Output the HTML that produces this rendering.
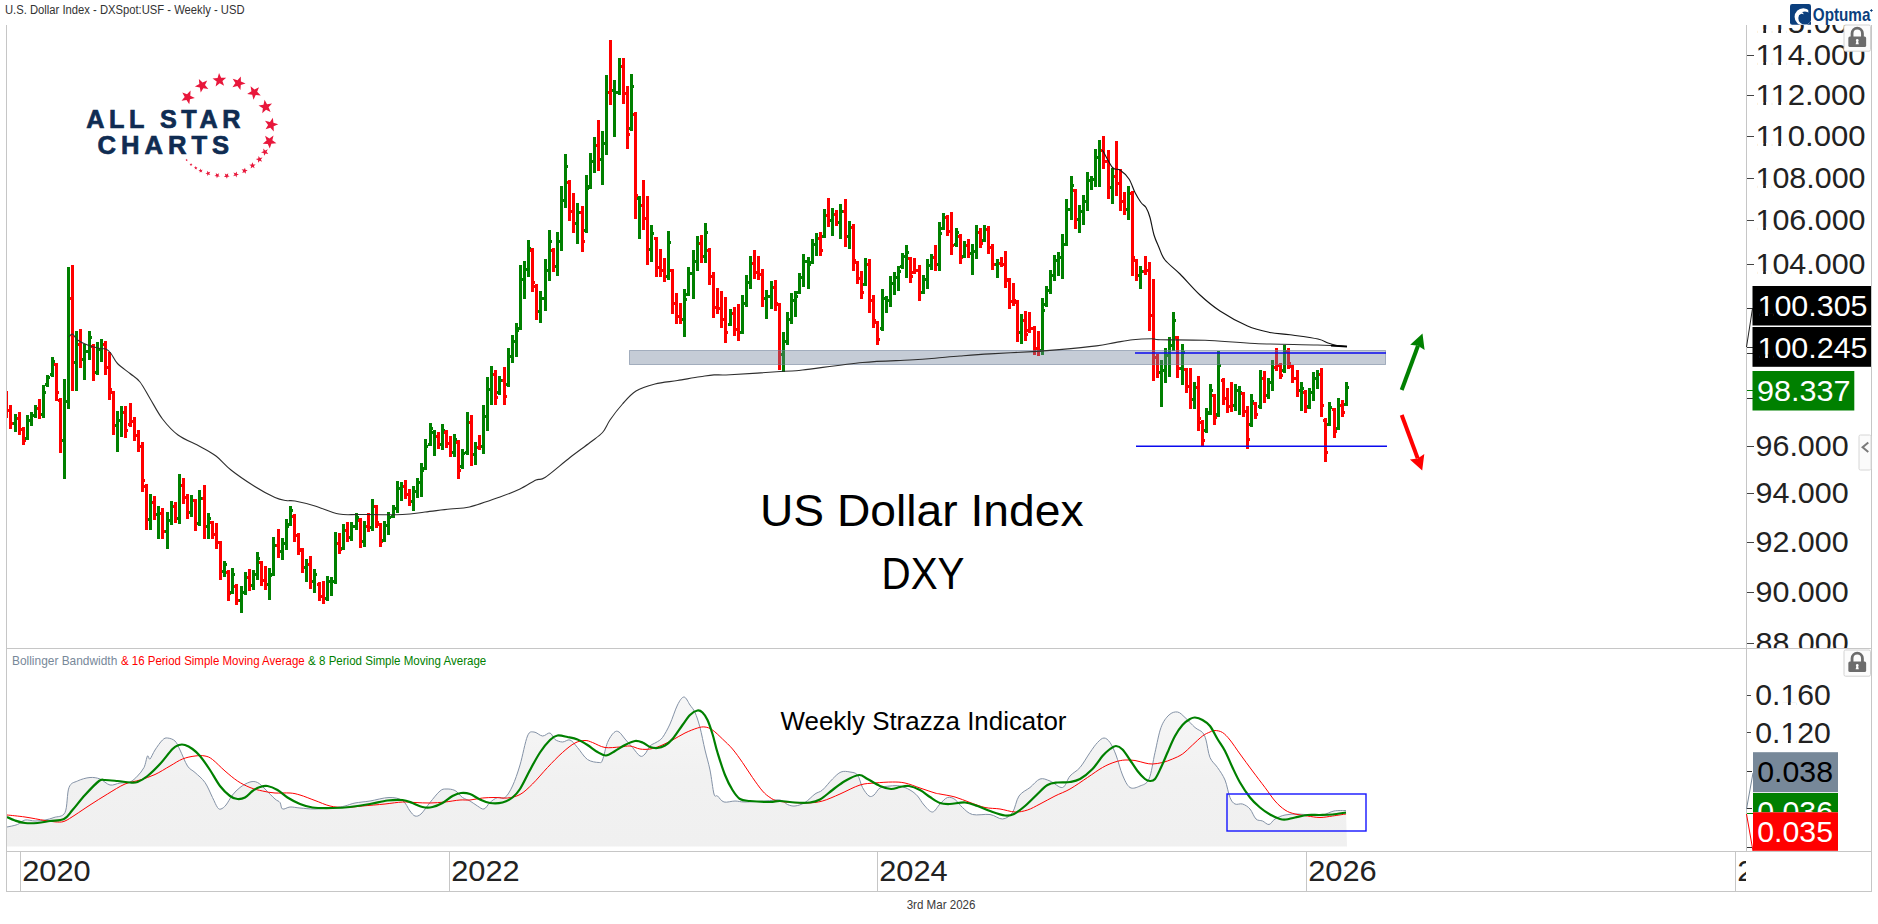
<!DOCTYPE html>
<html><head><meta charset="utf-8"><title>US Dollar Index</title>
<style>html,body{margin:0;padding:0;background:#fff;}body{width:1878px;height:924px;overflow:hidden;font-family:"Liberation Sans", sans-serif;}svg{display:block}</style>
</head><body><svg width="1878" height="924" viewBox="0 0 1878 924"><rect x="0" y="0" width="1878" height="924" fill="#ffffff"/>
<defs><linearGradient id="bbg" x1="0" y1="0" x2="0" y2="1"><stop offset="0" stop-color="#f7f7f7"/><stop offset="0.55" stop-color="#f1f1f1"/><stop offset="1" stop-color="#f0f0f0"/></linearGradient><clipPath id="mainclip"><rect x="7" y="25" width="1739" height="623"/></clipPath><clipPath id="dateclip"><rect x="7" y="852" width="1739" height="39"/></clipPath><clipPath id="axclip"><rect x="1747" y="25" width="124" height="623"/></clipPath></defs>
<path d="M7.0,827.0 C8.8,826.6 14.5,825.7 17.5,824.5 C20.5,823.3 22.1,820.6 25.0,820.0 C27.9,819.4 31.7,821.0 35.0,821.0 C38.3,821.0 41.8,820.6 45.0,820.0 C48.2,819.4 50.7,818.8 54.0,817.5 C57.3,816.2 62.5,817.5 65.0,812.5 C67.5,807.5 66.9,792.8 69.0,787.5 C71.1,782.2 74.0,782.7 77.5,781.0 C81.0,779.3 86.2,777.8 90.0,777.5 C93.8,777.2 96.7,777.8 100.0,779.0 C103.3,780.2 106.7,784.3 110.0,785.0 C113.3,785.7 116.7,783.5 120.0,783.0 C123.3,782.5 127.1,783.2 130.0,782.0 C132.9,780.8 135.2,778.4 137.5,776.0 C139.8,773.6 142.3,770.8 144.0,767.5 C145.7,764.2 146.5,757.4 147.5,756.0 C148.5,754.6 148.8,760.0 150.0,759.0 C151.2,758.0 152.9,753.2 155.0,750.0 C157.1,746.8 160.4,742.0 162.5,740.0 C164.6,738.0 165.4,737.8 167.5,738.0 C169.6,738.2 172.9,739.0 175.0,741.0 C177.1,743.0 177.9,745.8 180.0,750.0 C182.1,754.2 185.0,762.2 187.5,766.0 C190.0,769.8 192.1,769.8 195.0,772.5 C197.9,775.2 202.1,778.3 205.0,782.5 C207.9,786.7 210.4,793.3 212.5,797.5 C214.6,801.7 216.1,805.6 217.5,807.5 C218.9,809.4 219.6,809.4 221.0,809.0 C222.4,808.6 224.1,807.3 226.0,805.0 C227.9,802.7 230.2,797.9 232.5,795.0 C234.8,792.1 237.1,789.7 240.0,787.5 C242.9,785.3 247.1,782.8 250.0,782.0 C252.9,781.2 255.0,781.3 257.5,782.5 C260.0,783.7 262.1,786.2 265.0,789.0 C267.9,791.8 272.5,796.8 275.0,799.0 C277.5,801.2 278.8,800.8 280.0,802.5 C281.2,804.2 280.8,808.2 282.5,809.0 C284.2,809.8 287.1,807.2 290.0,807.0 C292.9,806.8 295.8,807.7 300.0,808.0 C304.2,808.3 309.2,809.1 315.0,809.0 C320.8,808.9 330.0,808.0 335.0,807.5 C340.0,807.0 341.7,806.8 345.0,806.0 C348.3,805.2 350.8,803.8 355.0,803.0 C359.2,802.2 364.3,801.9 370.0,801.0 C375.7,800.1 383.6,797.6 389.0,797.5 C394.4,797.4 399.0,798.2 402.5,800.5 C406.0,802.8 407.9,808.4 410.0,811.0 C412.1,813.6 413.2,815.5 415.0,816.0 C416.8,816.5 418.5,816.2 421.0,814.0 C423.5,811.8 426.8,806.3 430.0,802.5 C433.2,798.7 437.3,793.2 440.0,791.0 C442.7,788.8 443.5,789.1 446.0,789.0 C448.5,788.9 452.2,789.1 455.0,790.5 C457.8,791.9 460.0,795.8 462.5,797.5 C465.0,799.2 467.5,799.6 470.0,801.0 C472.5,802.4 475.2,804.7 477.5,806.0 C479.8,807.3 481.9,809.6 484.0,809.0 C486.1,808.4 487.8,804.4 490.0,802.5 C492.2,800.6 495.0,798.3 497.5,797.5 C500.0,796.7 502.5,799.4 505.0,797.5 C507.5,795.6 510.0,791.4 512.5,786.0 C515.0,780.6 517.5,773.3 520.0,765.0 C522.5,756.7 525.2,741.5 527.5,736.0 C529.8,730.5 531.5,732.0 534.0,732.0 C536.5,732.0 539.8,735.8 542.5,736.0 C545.2,736.2 547.9,732.4 550.0,733.0 C552.1,733.6 552.9,738.0 555.0,739.5 C557.1,741.0 560.0,741.9 562.5,742.0 C565.0,742.1 567.5,739.1 570.0,740.0 C572.5,740.9 574.6,744.2 577.5,747.5 C580.4,750.8 583.9,757.0 587.5,759.5 C591.1,762.0 596.5,762.4 599.0,762.5 C601.5,762.6 601.1,763.3 602.5,760.0 C603.9,756.7 605.6,747.1 607.5,742.5 C609.4,737.9 612.1,734.2 614.0,732.5 C615.9,730.8 617.2,730.9 619.0,732.0 C620.8,733.1 622.8,736.4 625.0,739.0 C627.2,741.6 630.0,744.7 632.5,747.5 C635.0,750.3 637.9,754.9 640.0,756.0 C642.1,757.1 643.3,755.7 645.0,754.0 C646.7,752.3 648.2,747.9 650.0,746.0 C651.8,744.1 653.9,743.9 656.0,742.5 C658.1,741.1 660.2,740.6 662.5,737.5 C664.8,734.4 667.5,729.4 670.0,724.0 C672.5,718.6 675.2,709.5 677.5,705.0 C679.8,700.5 681.9,697.0 684.0,697.0 C686.1,697.0 688.2,702.4 690.0,705.0 C691.8,707.6 693.3,708.8 695.0,712.5 C696.7,716.2 698.3,721.2 700.0,727.5 C701.7,733.8 703.3,742.9 705.0,750.0 C706.7,757.1 708.5,762.7 710.0,770.0 C711.5,777.3 712.8,789.7 714.0,794.0 C715.2,798.3 715.8,794.7 717.5,796.0 C719.2,797.3 721.1,801.2 724.0,802.0 C726.9,802.8 731.5,801.0 735.0,801.0 C738.5,801.0 740.0,802.0 745.0,802.0 C750.0,802.0 759.2,801.3 765.0,801.0 C770.8,800.7 776.2,799.4 780.0,800.0 C783.8,800.6 785.0,803.5 787.5,804.5 C790.0,805.5 792.1,806.3 795.0,806.0 C797.9,805.7 801.7,804.5 805.0,802.5 C808.3,800.5 812.1,796.1 815.0,794.0 C817.9,791.9 819.6,792.5 822.5,790.0 C825.4,787.5 829.4,782.0 832.5,779.0 C835.6,776.0 838.1,773.2 841.0,772.0 C843.9,770.8 847.2,771.5 850.0,772.0 C852.8,772.5 855.4,772.4 857.5,775.0 C859.6,777.6 860.6,784.0 862.5,787.5 C864.4,791.0 867.1,794.8 869.0,796.0 C870.9,797.2 872.2,796.3 874.0,795.0 C875.8,793.7 877.3,789.5 880.0,788.0 C882.7,786.5 886.7,786.3 890.0,786.0 C893.3,785.7 896.7,785.3 900.0,786.0 C903.3,786.7 907.1,788.3 910.0,790.0 C912.9,791.7 915.2,793.5 917.5,796.0 C919.8,798.5 921.5,802.3 924.0,805.0 C926.5,807.7 929.8,812.2 932.5,812.0 C935.2,811.8 937.5,806.4 940.0,804.0 C942.5,801.6 945.0,798.2 947.5,797.5 C950.0,796.8 952.5,797.8 955.0,799.5 C957.5,801.2 959.6,805.0 962.5,807.5 C965.4,810.0 967.9,813.3 972.5,814.5 C977.1,815.7 985.0,813.8 990.0,814.5 C995.0,815.2 998.8,819.3 1002.5,819.0 C1006.2,818.7 1009.8,816.3 1012.5,812.5 C1015.2,808.7 1016.1,800.2 1019.0,796.0 C1021.9,791.8 1026.5,790.3 1030.0,787.5 C1033.5,784.7 1036.7,780.1 1040.0,779.0 C1043.3,777.9 1046.2,779.6 1050.0,781.0 C1053.8,782.4 1059.2,788.3 1062.5,787.5 C1065.8,786.7 1067.1,779.3 1070.0,776.0 C1072.9,772.7 1076.7,771.4 1080.0,767.5 C1083.3,763.6 1087.1,756.7 1090.0,752.5 C1092.9,748.3 1095.2,744.9 1097.5,742.5 C1099.8,740.1 1101.9,738.0 1104.0,738.0 C1106.1,738.0 1108.0,739.7 1110.0,742.5 C1112.0,745.3 1113.9,749.6 1116.0,755.0 C1118.1,760.4 1120.2,769.6 1122.5,775.0 C1124.8,780.4 1127.1,785.7 1130.0,787.5 C1132.9,789.3 1136.8,787.4 1140.0,786.0 C1143.2,784.6 1146.5,784.6 1149.0,779.0 C1151.5,773.4 1153.0,761.1 1155.0,752.5 C1157.0,743.9 1158.7,733.8 1161.0,727.5 C1163.3,721.2 1166.2,717.6 1169.0,715.0 C1171.8,712.4 1174.8,711.6 1177.5,712.0 C1180.2,712.4 1182.1,714.9 1185.0,717.5 C1187.9,720.1 1192.1,725.0 1195.0,727.5 C1197.9,730.0 1200.7,730.4 1202.5,732.5 C1204.3,734.6 1204.8,735.8 1206.0,740.0 C1207.2,744.2 1208.1,752.9 1210.0,757.5 C1211.9,762.1 1215.0,763.8 1217.5,767.5 C1220.0,771.2 1222.9,775.0 1225.0,780.0 C1227.1,785.0 1228.3,793.5 1230.0,797.5 C1231.7,801.5 1232.9,802.9 1235.0,804.0 C1237.1,805.1 1240.0,803.2 1242.5,804.0 C1245.0,804.8 1247.8,806.5 1250.0,809.0 C1252.2,811.5 1253.9,817.0 1256.0,819.0 C1258.1,821.0 1260.3,820.1 1262.5,821.0 C1264.7,821.9 1266.9,824.8 1269.0,824.5 C1271.1,824.2 1272.3,820.6 1275.0,819.0 C1277.7,817.4 1281.2,815.8 1285.0,815.0 C1288.8,814.2 1293.3,814.0 1297.5,814.0 C1301.7,814.0 1305.8,814.8 1310.0,815.0 C1314.2,815.2 1318.5,815.7 1322.5,815.0 C1326.5,814.3 1330.1,811.8 1334.0,811.0 C1337.9,810.2 1344.0,810.6 1346.0,810.5 L1347,846.5 L7,846.5 Z" fill="url(#bbg)" stroke="none"/>
<g clip-path="url(#mainclip)" shape-rendering="crispEdges">
<rect x="7" y="391" width="1" height="27" fill="#ff0000"/>
<rect x="9" y="405" width="3" height="24" fill="#ff0000"/>
<rect x="8" y="409" width="1" height="3" fill="#ff0000"/>
<rect x="12" y="422" width="1" height="3" fill="#ff0000"/>
<rect x="14" y="414" width="3" height="18" fill="#008000"/>
<rect x="13" y="422" width="1" height="3" fill="#008000"/>
<rect x="17" y="417" width="1" height="3" fill="#008000"/>
<rect x="18" y="412" width="3" height="23" fill="#ff0000"/>
<rect x="17" y="417" width="1" height="3" fill="#ff0000"/>
<rect x="21" y="428" width="1" height="3" fill="#ff0000"/>
<rect x="22" y="427" width="3" height="18" fill="#ff0000"/>
<rect x="21" y="428" width="1" height="3" fill="#ff0000"/>
<rect x="25" y="439" width="1" height="3" fill="#ff0000"/>
<rect x="26" y="415" width="3" height="25" fill="#008000"/>
<rect x="25" y="437" width="1" height="3" fill="#008000"/>
<rect x="29" y="419" width="1" height="3" fill="#008000"/>
<rect x="30" y="412" width="3" height="14" fill="#008000"/>
<rect x="29" y="419" width="1" height="3" fill="#008000"/>
<rect x="33" y="414" width="1" height="3" fill="#008000"/>
<rect x="34" y="405" width="3" height="13" fill="#008000"/>
<rect x="33" y="414" width="1" height="3" fill="#008000"/>
<rect x="37" y="407" width="1" height="3" fill="#008000"/>
<rect x="38" y="399" width="3" height="20" fill="#ff0000"/>
<rect x="37" y="407" width="1" height="3" fill="#ff0000"/>
<rect x="41" y="413" width="1" height="3" fill="#ff0000"/>
<rect x="42" y="385" width="3" height="33" fill="#008000"/>
<rect x="41" y="413" width="1" height="3" fill="#008000"/>
<rect x="45" y="391" width="1" height="3" fill="#008000"/>
<rect x="46" y="375" width="3" height="12" fill="#008000"/>
<rect x="45" y="383" width="1" height="3" fill="#008000"/>
<rect x="49" y="376" width="1" height="3" fill="#008000"/>
<rect x="51" y="357" width="3" height="20" fill="#008000"/>
<rect x="50" y="373" width="1" height="3" fill="#008000"/>
<rect x="54" y="360" width="1" height="3" fill="#008000"/>
<rect x="55" y="363" width="3" height="38" fill="#ff0000"/>
<rect x="54" y="363" width="1" height="3" fill="#ff0000"/>
<rect x="58" y="391" width="1" height="3" fill="#ff0000"/>
<rect x="59" y="398" width="3" height="55" fill="#ff0000"/>
<rect x="58" y="399" width="1" height="3" fill="#ff0000"/>
<rect x="62" y="439" width="1" height="3" fill="#ff0000"/>
<rect x="63" y="379" width="3" height="100" fill="#008000"/>
<rect x="62" y="439" width="1" height="3" fill="#008000"/>
<rect x="66" y="400" width="1" height="3" fill="#008000"/>
<rect x="67" y="267" width="3" height="142" fill="#008000"/>
<rect x="66" y="400" width="1" height="3" fill="#008000"/>
<rect x="70" y="297" width="1" height="3" fill="#008000"/>
<rect x="71" y="265" width="3" height="126" fill="#ff0000"/>
<rect x="70" y="297" width="1" height="3" fill="#ff0000"/>
<rect x="74" y="361" width="1" height="3" fill="#ff0000"/>
<rect x="75" y="331" width="3" height="60" fill="#008000"/>
<rect x="74" y="361" width="1" height="3" fill="#008000"/>
<rect x="78" y="343" width="1" height="3" fill="#008000"/>
<rect x="79" y="329" width="3" height="39" fill="#ff0000"/>
<rect x="78" y="343" width="1" height="3" fill="#ff0000"/>
<rect x="82" y="358" width="1" height="3" fill="#ff0000"/>
<rect x="83" y="344" width="3" height="36" fill="#008000"/>
<rect x="82" y="358" width="1" height="3" fill="#008000"/>
<rect x="86" y="350" width="1" height="3" fill="#008000"/>
<rect x="88" y="331" width="3" height="29" fill="#008000"/>
<rect x="87" y="350" width="1" height="3" fill="#008000"/>
<rect x="91" y="336" width="1" height="3" fill="#008000"/>
<rect x="92" y="344" width="3" height="37" fill="#ff0000"/>
<rect x="91" y="345" width="1" height="3" fill="#ff0000"/>
<rect x="95" y="371" width="1" height="3" fill="#ff0000"/>
<rect x="96" y="342" width="3" height="33" fill="#008000"/>
<rect x="95" y="371" width="1" height="3" fill="#008000"/>
<rect x="99" y="348" width="1" height="3" fill="#008000"/>
<rect x="100" y="339" width="3" height="23" fill="#008000"/>
<rect x="99" y="348" width="1" height="3" fill="#008000"/>
<rect x="103" y="343" width="1" height="3" fill="#008000"/>
<rect x="104" y="341" width="3" height="34" fill="#ff0000"/>
<rect x="103" y="343" width="1" height="3" fill="#ff0000"/>
<rect x="107" y="366" width="1" height="3" fill="#ff0000"/>
<rect x="108" y="352" width="3" height="48" fill="#ff0000"/>
<rect x="107" y="366" width="1" height="3" fill="#ff0000"/>
<rect x="111" y="388" width="1" height="3" fill="#ff0000"/>
<rect x="112" y="391" width="3" height="44" fill="#ff0000"/>
<rect x="111" y="391" width="1" height="3" fill="#ff0000"/>
<rect x="115" y="424" width="1" height="3" fill="#ff0000"/>
<rect x="116" y="411" width="3" height="41" fill="#008000"/>
<rect x="115" y="424" width="1" height="3" fill="#008000"/>
<rect x="119" y="419" width="1" height="3" fill="#008000"/>
<rect x="120" y="406" width="3" height="31" fill="#008000"/>
<rect x="119" y="419" width="1" height="3" fill="#008000"/>
<rect x="123" y="411" width="1" height="3" fill="#008000"/>
<rect x="124" y="406" width="3" height="32" fill="#ff0000"/>
<rect x="123" y="411" width="1" height="3" fill="#ff0000"/>
<rect x="127" y="429" width="1" height="3" fill="#ff0000"/>
<rect x="129" y="403" width="3" height="24" fill="#ff0000"/>
<rect x="128" y="423" width="1" height="3" fill="#ff0000"/>
<rect x="132" y="420" width="1" height="3" fill="#ff0000"/>
<rect x="133" y="417" width="3" height="24" fill="#ff0000"/>
<rect x="132" y="420" width="1" height="3" fill="#ff0000"/>
<rect x="136" y="434" width="1" height="3" fill="#ff0000"/>
<rect x="137" y="430" width="3" height="22" fill="#ff0000"/>
<rect x="136" y="434" width="1" height="3" fill="#ff0000"/>
<rect x="140" y="445" width="1" height="3" fill="#ff0000"/>
<rect x="141" y="442" width="3" height="50" fill="#ff0000"/>
<rect x="140" y="445" width="1" height="3" fill="#ff0000"/>
<rect x="144" y="479" width="1" height="3" fill="#ff0000"/>
<rect x="145" y="484" width="3" height="46" fill="#ff0000"/>
<rect x="144" y="485" width="1" height="3" fill="#ff0000"/>
<rect x="148" y="518" width="1" height="3" fill="#ff0000"/>
<rect x="149" y="494" width="3" height="36" fill="#008000"/>
<rect x="148" y="518" width="1" height="3" fill="#008000"/>
<rect x="152" y="501" width="1" height="3" fill="#008000"/>
<rect x="153" y="496" width="3" height="24" fill="#ff0000"/>
<rect x="152" y="501" width="1" height="3" fill="#ff0000"/>
<rect x="156" y="513" width="1" height="3" fill="#ff0000"/>
<rect x="157" y="506" width="3" height="33" fill="#008000"/>
<rect x="156" y="513" width="1" height="3" fill="#008000"/>
<rect x="160" y="512" width="1" height="3" fill="#008000"/>
<rect x="161" y="508" width="3" height="31" fill="#ff0000"/>
<rect x="160" y="512" width="1" height="3" fill="#ff0000"/>
<rect x="164" y="530" width="1" height="3" fill="#ff0000"/>
<rect x="166" y="512" width="3" height="37" fill="#008000"/>
<rect x="165" y="530" width="1" height="3" fill="#008000"/>
<rect x="169" y="519" width="1" height="3" fill="#008000"/>
<rect x="170" y="501" width="3" height="24" fill="#008000"/>
<rect x="169" y="519" width="1" height="3" fill="#008000"/>
<rect x="173" y="505" width="1" height="3" fill="#008000"/>
<rect x="174" y="502" width="3" height="21" fill="#ff0000"/>
<rect x="173" y="505" width="1" height="3" fill="#ff0000"/>
<rect x="177" y="517" width="1" height="3" fill="#ff0000"/>
<rect x="178" y="474" width="3" height="50" fill="#008000"/>
<rect x="177" y="517" width="1" height="3" fill="#008000"/>
<rect x="181" y="484" width="1" height="3" fill="#008000"/>
<rect x="182" y="478" width="3" height="26" fill="#ff0000"/>
<rect x="181" y="484" width="1" height="3" fill="#ff0000"/>
<rect x="185" y="496" width="1" height="3" fill="#ff0000"/>
<rect x="186" y="494" width="3" height="25" fill="#ff0000"/>
<rect x="185" y="496" width="1" height="3" fill="#ff0000"/>
<rect x="189" y="511" width="1" height="3" fill="#ff0000"/>
<rect x="190" y="495" width="3" height="22" fill="#008000"/>
<rect x="189" y="511" width="1" height="3" fill="#008000"/>
<rect x="193" y="499" width="1" height="3" fill="#008000"/>
<rect x="194" y="499" width="3" height="32" fill="#ff0000"/>
<rect x="193" y="499" width="1" height="3" fill="#ff0000"/>
<rect x="197" y="522" width="1" height="3" fill="#ff0000"/>
<rect x="198" y="490" width="3" height="36" fill="#008000"/>
<rect x="197" y="522" width="1" height="3" fill="#008000"/>
<rect x="201" y="497" width="1" height="3" fill="#008000"/>
<rect x="203" y="485" width="3" height="54" fill="#ff0000"/>
<rect x="202" y="497" width="1" height="3" fill="#ff0000"/>
<rect x="206" y="525" width="1" height="3" fill="#ff0000"/>
<rect x="207" y="513" width="3" height="26" fill="#008000"/>
<rect x="206" y="525" width="1" height="3" fill="#008000"/>
<rect x="210" y="517" width="1" height="3" fill="#008000"/>
<rect x="211" y="521" width="3" height="18" fill="#ff0000"/>
<rect x="210" y="521" width="1" height="3" fill="#ff0000"/>
<rect x="214" y="533" width="1" height="3" fill="#ff0000"/>
<rect x="215" y="523" width="3" height="26" fill="#ff0000"/>
<rect x="214" y="533" width="1" height="3" fill="#ff0000"/>
<rect x="218" y="541" width="1" height="3" fill="#ff0000"/>
<rect x="219" y="541" width="3" height="39" fill="#ff0000"/>
<rect x="218" y="541" width="1" height="3" fill="#ff0000"/>
<rect x="222" y="570" width="1" height="3" fill="#ff0000"/>
<rect x="223" y="561" width="3" height="16" fill="#008000"/>
<rect x="222" y="570" width="1" height="3" fill="#008000"/>
<rect x="226" y="563" width="1" height="3" fill="#008000"/>
<rect x="227" y="570" width="3" height="31" fill="#ff0000"/>
<rect x="226" y="571" width="1" height="3" fill="#ff0000"/>
<rect x="230" y="592" width="1" height="3" fill="#ff0000"/>
<rect x="231" y="568" width="3" height="26" fill="#008000"/>
<rect x="230" y="591" width="1" height="3" fill="#008000"/>
<rect x="234" y="573" width="1" height="3" fill="#008000"/>
<rect x="235" y="584" width="3" height="21" fill="#ff0000"/>
<rect x="234" y="585" width="1" height="3" fill="#ff0000"/>
<rect x="238" y="599" width="1" height="3" fill="#ff0000"/>
<rect x="240" y="586" width="3" height="27" fill="#008000"/>
<rect x="239" y="599" width="1" height="3" fill="#008000"/>
<rect x="243" y="591" width="1" height="3" fill="#008000"/>
<rect x="244" y="572" width="3" height="23" fill="#008000"/>
<rect x="243" y="591" width="1" height="3" fill="#008000"/>
<rect x="247" y="576" width="1" height="3" fill="#008000"/>
<rect x="248" y="569" width="3" height="22" fill="#ff0000"/>
<rect x="247" y="576" width="1" height="3" fill="#ff0000"/>
<rect x="251" y="584" width="1" height="3" fill="#ff0000"/>
<rect x="252" y="570" width="3" height="20" fill="#008000"/>
<rect x="251" y="584" width="1" height="3" fill="#008000"/>
<rect x="255" y="573" width="1" height="3" fill="#008000"/>
<rect x="256" y="552" width="3" height="28" fill="#008000"/>
<rect x="255" y="573" width="1" height="3" fill="#008000"/>
<rect x="259" y="557" width="1" height="3" fill="#008000"/>
<rect x="260" y="561" width="3" height="25" fill="#ff0000"/>
<rect x="259" y="561" width="1" height="3" fill="#ff0000"/>
<rect x="263" y="579" width="1" height="3" fill="#ff0000"/>
<rect x="264" y="566" width="3" height="24" fill="#ff0000"/>
<rect x="263" y="579" width="1" height="3" fill="#ff0000"/>
<rect x="267" y="583" width="1" height="3" fill="#ff0000"/>
<rect x="268" y="568" width="3" height="32" fill="#008000"/>
<rect x="267" y="583" width="1" height="3" fill="#008000"/>
<rect x="271" y="574" width="1" height="3" fill="#008000"/>
<rect x="272" y="537" width="3" height="39" fill="#008000"/>
<rect x="271" y="573" width="1" height="3" fill="#008000"/>
<rect x="275" y="544" width="1" height="3" fill="#008000"/>
<rect x="277" y="529" width="3" height="29" fill="#ff0000"/>
<rect x="276" y="544" width="1" height="3" fill="#ff0000"/>
<rect x="280" y="550" width="1" height="3" fill="#ff0000"/>
<rect x="281" y="538" width="3" height="22" fill="#008000"/>
<rect x="280" y="550" width="1" height="3" fill="#008000"/>
<rect x="284" y="542" width="1" height="3" fill="#008000"/>
<rect x="285" y="519" width="3" height="31" fill="#008000"/>
<rect x="284" y="542" width="1" height="3" fill="#008000"/>
<rect x="288" y="525" width="1" height="3" fill="#008000"/>
<rect x="289" y="506" width="3" height="20" fill="#008000"/>
<rect x="288" y="523" width="1" height="3" fill="#008000"/>
<rect x="292" y="509" width="1" height="3" fill="#008000"/>
<rect x="293" y="514" width="3" height="28" fill="#ff0000"/>
<rect x="292" y="515" width="1" height="3" fill="#ff0000"/>
<rect x="296" y="534" width="1" height="3" fill="#ff0000"/>
<rect x="297" y="533" width="3" height="22" fill="#ff0000"/>
<rect x="296" y="534" width="1" height="3" fill="#ff0000"/>
<rect x="300" y="548" width="1" height="3" fill="#ff0000"/>
<rect x="301" y="548" width="3" height="25" fill="#ff0000"/>
<rect x="300" y="549" width="1" height="3" fill="#ff0000"/>
<rect x="304" y="566" width="1" height="3" fill="#ff0000"/>
<rect x="305" y="559" width="3" height="23" fill="#008000"/>
<rect x="304" y="566" width="1" height="3" fill="#008000"/>
<rect x="308" y="563" width="1" height="3" fill="#008000"/>
<rect x="309" y="556" width="3" height="33" fill="#ff0000"/>
<rect x="308" y="563" width="1" height="3" fill="#ff0000"/>
<rect x="312" y="580" width="1" height="3" fill="#ff0000"/>
<rect x="313" y="569" width="3" height="24" fill="#008000"/>
<rect x="312" y="580" width="1" height="3" fill="#008000"/>
<rect x="316" y="573" width="1" height="3" fill="#008000"/>
<rect x="318" y="582" width="3" height="19" fill="#ff0000"/>
<rect x="317" y="583" width="1" height="3" fill="#ff0000"/>
<rect x="321" y="595" width="1" height="3" fill="#ff0000"/>
<rect x="322" y="581" width="3" height="23" fill="#ff0000"/>
<rect x="321" y="595" width="1" height="3" fill="#ff0000"/>
<rect x="325" y="597" width="1" height="3" fill="#ff0000"/>
<rect x="326" y="576" width="3" height="25" fill="#008000"/>
<rect x="325" y="597" width="1" height="3" fill="#008000"/>
<rect x="329" y="580" width="1" height="3" fill="#008000"/>
<rect x="330" y="577" width="3" height="19" fill="#008000"/>
<rect x="329" y="580" width="1" height="3" fill="#008000"/>
<rect x="333" y="580" width="1" height="3" fill="#008000"/>
<rect x="334" y="532" width="3" height="52" fill="#008000"/>
<rect x="333" y="580" width="1" height="3" fill="#008000"/>
<rect x="337" y="542" width="1" height="3" fill="#008000"/>
<rect x="338" y="533" width="3" height="21" fill="#ff0000"/>
<rect x="337" y="542" width="1" height="3" fill="#ff0000"/>
<rect x="341" y="548" width="1" height="3" fill="#ff0000"/>
<rect x="342" y="524" width="3" height="26" fill="#008000"/>
<rect x="341" y="547" width="1" height="3" fill="#008000"/>
<rect x="345" y="529" width="1" height="3" fill="#008000"/>
<rect x="346" y="522" width="3" height="20" fill="#ff0000"/>
<rect x="345" y="529" width="1" height="3" fill="#ff0000"/>
<rect x="349" y="536" width="1" height="3" fill="#ff0000"/>
<rect x="350" y="522" width="3" height="19" fill="#008000"/>
<rect x="349" y="536" width="1" height="3" fill="#008000"/>
<rect x="353" y="525" width="1" height="3" fill="#008000"/>
<rect x="355" y="513" width="3" height="17" fill="#008000"/>
<rect x="354" y="525" width="1" height="3" fill="#008000"/>
<rect x="358" y="516" width="1" height="3" fill="#008000"/>
<rect x="359" y="518" width="3" height="30" fill="#ff0000"/>
<rect x="358" y="519" width="1" height="3" fill="#ff0000"/>
<rect x="362" y="540" width="1" height="3" fill="#ff0000"/>
<rect x="363" y="521" width="3" height="26" fill="#008000"/>
<rect x="362" y="540" width="1" height="3" fill="#008000"/>
<rect x="366" y="525" width="1" height="3" fill="#008000"/>
<rect x="367" y="513" width="3" height="19" fill="#ff0000"/>
<rect x="366" y="525" width="1" height="3" fill="#ff0000"/>
<rect x="370" y="526" width="1" height="3" fill="#ff0000"/>
<rect x="371" y="499" width="3" height="32" fill="#008000"/>
<rect x="370" y="526" width="1" height="3" fill="#008000"/>
<rect x="374" y="505" width="1" height="3" fill="#008000"/>
<rect x="375" y="505" width="3" height="23" fill="#ff0000"/>
<rect x="374" y="505" width="1" height="3" fill="#ff0000"/>
<rect x="378" y="521" width="1" height="3" fill="#ff0000"/>
<rect x="379" y="523" width="3" height="24" fill="#ff0000"/>
<rect x="378" y="523" width="1" height="3" fill="#ff0000"/>
<rect x="382" y="540" width="1" height="3" fill="#ff0000"/>
<rect x="383" y="521" width="3" height="21" fill="#008000"/>
<rect x="382" y="539" width="1" height="3" fill="#008000"/>
<rect x="386" y="524" width="1" height="3" fill="#008000"/>
<rect x="387" y="512" width="3" height="23" fill="#008000"/>
<rect x="386" y="524" width="1" height="3" fill="#008000"/>
<rect x="390" y="516" width="1" height="3" fill="#008000"/>
<rect x="392" y="505" width="3" height="13" fill="#008000"/>
<rect x="391" y="515" width="1" height="3" fill="#008000"/>
<rect x="395" y="507" width="1" height="3" fill="#008000"/>
<rect x="396" y="481" width="3" height="32" fill="#008000"/>
<rect x="395" y="507" width="1" height="3" fill="#008000"/>
<rect x="399" y="487" width="1" height="3" fill="#008000"/>
<rect x="400" y="482" width="3" height="19" fill="#008000"/>
<rect x="399" y="487" width="1" height="3" fill="#008000"/>
<rect x="403" y="485" width="1" height="3" fill="#008000"/>
<rect x="404" y="480" width="3" height="19" fill="#ff0000"/>
<rect x="403" y="485" width="1" height="3" fill="#ff0000"/>
<rect x="407" y="493" width="1" height="3" fill="#ff0000"/>
<rect x="408" y="489" width="3" height="17" fill="#ff0000"/>
<rect x="407" y="493" width="1" height="3" fill="#ff0000"/>
<rect x="411" y="500" width="1" height="3" fill="#ff0000"/>
<rect x="412" y="486" width="3" height="25" fill="#008000"/>
<rect x="411" y="500" width="1" height="3" fill="#008000"/>
<rect x="415" y="490" width="1" height="3" fill="#008000"/>
<rect x="416" y="478" width="3" height="20" fill="#008000"/>
<rect x="415" y="490" width="1" height="3" fill="#008000"/>
<rect x="419" y="481" width="1" height="3" fill="#008000"/>
<rect x="420" y="463" width="3" height="34" fill="#008000"/>
<rect x="419" y="481" width="1" height="3" fill="#008000"/>
<rect x="423" y="469" width="1" height="3" fill="#008000"/>
<rect x="424" y="439" width="3" height="31" fill="#008000"/>
<rect x="423" y="467" width="1" height="3" fill="#008000"/>
<rect x="427" y="445" width="1" height="3" fill="#008000"/>
<rect x="429" y="423" width="3" height="23" fill="#008000"/>
<rect x="428" y="443" width="1" height="3" fill="#008000"/>
<rect x="432" y="427" width="1" height="3" fill="#008000"/>
<rect x="433" y="430" width="3" height="26" fill="#008000"/>
<rect x="432" y="431" width="1" height="3" fill="#008000"/>
<rect x="436" y="435" width="1" height="3" fill="#008000"/>
<rect x="437" y="432" width="3" height="17" fill="#ff0000"/>
<rect x="436" y="435" width="1" height="3" fill="#ff0000"/>
<rect x="440" y="443" width="1" height="3" fill="#ff0000"/>
<rect x="441" y="424" width="3" height="26" fill="#008000"/>
<rect x="440" y="443" width="1" height="3" fill="#008000"/>
<rect x="444" y="429" width="1" height="3" fill="#008000"/>
<rect x="445" y="430" width="3" height="18" fill="#ff0000"/>
<rect x="444" y="431" width="1" height="3" fill="#ff0000"/>
<rect x="448" y="442" width="1" height="3" fill="#ff0000"/>
<rect x="449" y="436" width="3" height="21" fill="#ff0000"/>
<rect x="448" y="442" width="1" height="3" fill="#ff0000"/>
<rect x="452" y="451" width="1" height="3" fill="#ff0000"/>
<rect x="453" y="434" width="3" height="23" fill="#008000"/>
<rect x="452" y="451" width="1" height="3" fill="#008000"/>
<rect x="456" y="438" width="1" height="3" fill="#008000"/>
<rect x="457" y="440" width="3" height="39" fill="#ff0000"/>
<rect x="456" y="441" width="1" height="3" fill="#ff0000"/>
<rect x="460" y="469" width="1" height="3" fill="#ff0000"/>
<rect x="461" y="449" width="3" height="20" fill="#008000"/>
<rect x="460" y="465" width="1" height="3" fill="#008000"/>
<rect x="464" y="452" width="1" height="3" fill="#008000"/>
<rect x="466" y="412" width="3" height="43" fill="#008000"/>
<rect x="465" y="451" width="1" height="3" fill="#008000"/>
<rect x="469" y="421" width="1" height="3" fill="#008000"/>
<rect x="470" y="415" width="3" height="51" fill="#ff0000"/>
<rect x="469" y="421" width="1" height="3" fill="#ff0000"/>
<rect x="473" y="453" width="1" height="3" fill="#ff0000"/>
<rect x="474" y="442" width="3" height="23" fill="#008000"/>
<rect x="473" y="453" width="1" height="3" fill="#008000"/>
<rect x="477" y="446" width="1" height="3" fill="#008000"/>
<rect x="478" y="435" width="3" height="15" fill="#ff0000"/>
<rect x="477" y="446" width="1" height="3" fill="#ff0000"/>
<rect x="481" y="445" width="1" height="3" fill="#ff0000"/>
<rect x="482" y="405" width="3" height="49" fill="#008000"/>
<rect x="481" y="445" width="1" height="3" fill="#008000"/>
<rect x="485" y="415" width="1" height="3" fill="#008000"/>
<rect x="486" y="377" width="3" height="54" fill="#008000"/>
<rect x="485" y="415" width="1" height="3" fill="#008000"/>
<rect x="489" y="388" width="1" height="3" fill="#008000"/>
<rect x="490" y="366" width="3" height="39" fill="#008000"/>
<rect x="489" y="388" width="1" height="3" fill="#008000"/>
<rect x="493" y="373" width="1" height="3" fill="#008000"/>
<rect x="494" y="370" width="3" height="35" fill="#ff0000"/>
<rect x="493" y="373" width="1" height="3" fill="#ff0000"/>
<rect x="497" y="396" width="1" height="3" fill="#ff0000"/>
<rect x="498" y="376" width="3" height="19" fill="#008000"/>
<rect x="497" y="391" width="1" height="3" fill="#008000"/>
<rect x="501" y="379" width="1" height="3" fill="#008000"/>
<rect x="503" y="367" width="3" height="38" fill="#ff0000"/>
<rect x="502" y="379" width="1" height="3" fill="#ff0000"/>
<rect x="506" y="395" width="1" height="3" fill="#ff0000"/>
<rect x="507" y="348" width="3" height="39" fill="#008000"/>
<rect x="506" y="383" width="1" height="3" fill="#008000"/>
<rect x="510" y="355" width="1" height="3" fill="#008000"/>
<rect x="511" y="335" width="3" height="28" fill="#008000"/>
<rect x="510" y="355" width="1" height="3" fill="#008000"/>
<rect x="514" y="340" width="1" height="3" fill="#008000"/>
<rect x="515" y="323" width="3" height="34" fill="#008000"/>
<rect x="514" y="340" width="1" height="3" fill="#008000"/>
<rect x="518" y="329" width="1" height="3" fill="#008000"/>
<rect x="519" y="265" width="3" height="65" fill="#008000"/>
<rect x="518" y="327" width="1" height="3" fill="#008000"/>
<rect x="522" y="278" width="1" height="3" fill="#008000"/>
<rect x="523" y="261" width="3" height="38" fill="#008000"/>
<rect x="522" y="278" width="1" height="3" fill="#008000"/>
<rect x="526" y="268" width="1" height="3" fill="#008000"/>
<rect x="527" y="240" width="3" height="37" fill="#008000"/>
<rect x="526" y="268" width="1" height="3" fill="#008000"/>
<rect x="530" y="247" width="1" height="3" fill="#008000"/>
<rect x="531" y="248" width="3" height="44" fill="#ff0000"/>
<rect x="530" y="249" width="1" height="3" fill="#ff0000"/>
<rect x="534" y="281" width="1" height="3" fill="#ff0000"/>
<rect x="535" y="284" width="3" height="36" fill="#ff0000"/>
<rect x="534" y="285" width="1" height="3" fill="#ff0000"/>
<rect x="538" y="310" width="1" height="3" fill="#ff0000"/>
<rect x="539" y="291" width="3" height="32" fill="#008000"/>
<rect x="538" y="310" width="1" height="3" fill="#008000"/>
<rect x="542" y="297" width="1" height="3" fill="#008000"/>
<rect x="544" y="259" width="3" height="52" fill="#008000"/>
<rect x="543" y="297" width="1" height="3" fill="#008000"/>
<rect x="547" y="269" width="1" height="3" fill="#008000"/>
<rect x="548" y="230" width="3" height="51" fill="#008000"/>
<rect x="547" y="269" width="1" height="3" fill="#008000"/>
<rect x="551" y="240" width="1" height="3" fill="#008000"/>
<rect x="552" y="248" width="3" height="24" fill="#ff0000"/>
<rect x="551" y="249" width="1" height="3" fill="#ff0000"/>
<rect x="555" y="265" width="1" height="3" fill="#ff0000"/>
<rect x="556" y="232" width="3" height="44" fill="#008000"/>
<rect x="555" y="265" width="1" height="3" fill="#008000"/>
<rect x="559" y="240" width="1" height="3" fill="#008000"/>
<rect x="560" y="186" width="3" height="65" fill="#008000"/>
<rect x="559" y="240" width="1" height="3" fill="#008000"/>
<rect x="563" y="199" width="1" height="3" fill="#008000"/>
<rect x="564" y="154" width="3" height="54" fill="#008000"/>
<rect x="563" y="199" width="1" height="3" fill="#008000"/>
<rect x="567" y="165" width="1" height="3" fill="#008000"/>
<rect x="568" y="180" width="3" height="41" fill="#ff0000"/>
<rect x="567" y="181" width="1" height="3" fill="#ff0000"/>
<rect x="571" y="210" width="1" height="3" fill="#ff0000"/>
<rect x="572" y="193" width="3" height="40" fill="#ff0000"/>
<rect x="571" y="210" width="1" height="3" fill="#ff0000"/>
<rect x="575" y="222" width="1" height="3" fill="#ff0000"/>
<rect x="576" y="203" width="3" height="41" fill="#008000"/>
<rect x="575" y="222" width="1" height="3" fill="#008000"/>
<rect x="579" y="211" width="1" height="3" fill="#008000"/>
<rect x="581" y="206" width="3" height="46" fill="#ff0000"/>
<rect x="580" y="211" width="1" height="3" fill="#ff0000"/>
<rect x="584" y="240" width="1" height="3" fill="#ff0000"/>
<rect x="585" y="175" width="3" height="58" fill="#008000"/>
<rect x="584" y="229" width="1" height="3" fill="#008000"/>
<rect x="588" y="187" width="1" height="3" fill="#008000"/>
<rect x="589" y="153" width="3" height="36" fill="#008000"/>
<rect x="588" y="185" width="1" height="3" fill="#008000"/>
<rect x="592" y="160" width="1" height="3" fill="#008000"/>
<rect x="593" y="137" width="3" height="36" fill="#008000"/>
<rect x="592" y="160" width="1" height="3" fill="#008000"/>
<rect x="596" y="144" width="1" height="3" fill="#008000"/>
<rect x="597" y="120" width="3" height="51" fill="#ff0000"/>
<rect x="596" y="144" width="1" height="3" fill="#ff0000"/>
<rect x="600" y="158" width="1" height="3" fill="#ff0000"/>
<rect x="601" y="131" width="3" height="54" fill="#008000"/>
<rect x="600" y="158" width="1" height="3" fill="#008000"/>
<rect x="604" y="142" width="1" height="3" fill="#008000"/>
<rect x="605" y="75" width="3" height="80" fill="#008000"/>
<rect x="604" y="142" width="1" height="3" fill="#008000"/>
<rect x="608" y="91" width="1" height="3" fill="#008000"/>
<rect x="609" y="40" width="3" height="65" fill="#ff0000"/>
<rect x="608" y="91" width="1" height="3" fill="#ff0000"/>
<rect x="612" y="89" width="1" height="3" fill="#ff0000"/>
<rect x="613" y="80" width="3" height="57" fill="#008000"/>
<rect x="612" y="89" width="1" height="3" fill="#008000"/>
<rect x="616" y="91" width="1" height="3" fill="#008000"/>
<rect x="618" y="58" width="3" height="37" fill="#008000"/>
<rect x="617" y="91" width="1" height="3" fill="#008000"/>
<rect x="621" y="65" width="1" height="3" fill="#008000"/>
<rect x="622" y="58" width="3" height="46" fill="#ff0000"/>
<rect x="621" y="65" width="1" height="3" fill="#ff0000"/>
<rect x="625" y="92" width="1" height="3" fill="#ff0000"/>
<rect x="626" y="86" width="3" height="63" fill="#ff0000"/>
<rect x="625" y="92" width="1" height="3" fill="#ff0000"/>
<rect x="629" y="133" width="1" height="3" fill="#ff0000"/>
<rect x="630" y="74" width="3" height="57" fill="#008000"/>
<rect x="629" y="127" width="1" height="3" fill="#008000"/>
<rect x="633" y="85" width="1" height="3" fill="#008000"/>
<rect x="634" y="112" width="3" height="107" fill="#ff0000"/>
<rect x="633" y="113" width="1" height="3" fill="#ff0000"/>
<rect x="637" y="194" width="1" height="3" fill="#ff0000"/>
<rect x="638" y="196" width="3" height="43" fill="#008000"/>
<rect x="637" y="197" width="1" height="3" fill="#008000"/>
<rect x="641" y="204" width="1" height="3" fill="#008000"/>
<rect x="642" y="180" width="3" height="50" fill="#ff0000"/>
<rect x="641" y="204" width="1" height="3" fill="#ff0000"/>
<rect x="645" y="217" width="1" height="3" fill="#ff0000"/>
<rect x="646" y="196" width="3" height="69" fill="#ff0000"/>
<rect x="645" y="217" width="1" height="3" fill="#ff0000"/>
<rect x="649" y="248" width="1" height="3" fill="#ff0000"/>
<rect x="650" y="225" width="3" height="37" fill="#008000"/>
<rect x="649" y="248" width="1" height="3" fill="#008000"/>
<rect x="653" y="232" width="1" height="3" fill="#008000"/>
<rect x="655" y="237" width="3" height="40" fill="#ff0000"/>
<rect x="654" y="237" width="1" height="3" fill="#ff0000"/>
<rect x="658" y="266" width="1" height="3" fill="#ff0000"/>
<rect x="659" y="249" width="3" height="28" fill="#ff0000"/>
<rect x="658" y="266" width="1" height="3" fill="#ff0000"/>
<rect x="662" y="269" width="1" height="3" fill="#ff0000"/>
<rect x="663" y="258" width="3" height="24" fill="#ff0000"/>
<rect x="662" y="269" width="1" height="3" fill="#ff0000"/>
<rect x="666" y="275" width="1" height="3" fill="#ff0000"/>
<rect x="667" y="231" width="3" height="49" fill="#008000"/>
<rect x="666" y="275" width="1" height="3" fill="#008000"/>
<rect x="670" y="241" width="1" height="3" fill="#008000"/>
<rect x="671" y="269" width="3" height="45" fill="#ff0000"/>
<rect x="670" y="269" width="1" height="3" fill="#ff0000"/>
<rect x="674" y="302" width="1" height="3" fill="#ff0000"/>
<rect x="675" y="293" width="3" height="31" fill="#ff0000"/>
<rect x="674" y="302" width="1" height="3" fill="#ff0000"/>
<rect x="678" y="315" width="1" height="3" fill="#ff0000"/>
<rect x="679" y="303" width="3" height="21" fill="#ff0000"/>
<rect x="678" y="315" width="1" height="3" fill="#ff0000"/>
<rect x="682" y="318" width="1" height="3" fill="#ff0000"/>
<rect x="683" y="289" width="3" height="48" fill="#008000"/>
<rect x="682" y="318" width="1" height="3" fill="#008000"/>
<rect x="686" y="298" width="1" height="3" fill="#008000"/>
<rect x="687" y="267" width="3" height="29" fill="#008000"/>
<rect x="686" y="293" width="1" height="3" fill="#008000"/>
<rect x="690" y="272" width="1" height="3" fill="#008000"/>
<rect x="692" y="250" width="3" height="49" fill="#008000"/>
<rect x="691" y="272" width="1" height="3" fill="#008000"/>
<rect x="695" y="260" width="1" height="3" fill="#008000"/>
<rect x="696" y="236" width="3" height="35" fill="#008000"/>
<rect x="695" y="260" width="1" height="3" fill="#008000"/>
<rect x="699" y="242" width="1" height="3" fill="#008000"/>
<rect x="700" y="235" width="3" height="28" fill="#ff0000"/>
<rect x="699" y="242" width="1" height="3" fill="#ff0000"/>
<rect x="703" y="255" width="1" height="3" fill="#ff0000"/>
<rect x="704" y="223" width="3" height="40" fill="#008000"/>
<rect x="703" y="255" width="1" height="3" fill="#008000"/>
<rect x="707" y="231" width="1" height="3" fill="#008000"/>
<rect x="708" y="248" width="3" height="37" fill="#ff0000"/>
<rect x="707" y="249" width="1" height="3" fill="#ff0000"/>
<rect x="711" y="275" width="1" height="3" fill="#ff0000"/>
<rect x="712" y="272" width="3" height="46" fill="#ff0000"/>
<rect x="711" y="275" width="1" height="3" fill="#ff0000"/>
<rect x="715" y="306" width="1" height="3" fill="#ff0000"/>
<rect x="716" y="288" width="3" height="26" fill="#ff0000"/>
<rect x="715" y="306" width="1" height="3" fill="#ff0000"/>
<rect x="719" y="307" width="1" height="3" fill="#ff0000"/>
<rect x="720" y="291" width="3" height="37" fill="#ff0000"/>
<rect x="719" y="307" width="1" height="3" fill="#ff0000"/>
<rect x="723" y="318" width="1" height="3" fill="#ff0000"/>
<rect x="724" y="297" width="3" height="46" fill="#ff0000"/>
<rect x="723" y="318" width="1" height="3" fill="#ff0000"/>
<rect x="727" y="331" width="1" height="3" fill="#ff0000"/>
<rect x="729" y="309" width="3" height="17" fill="#008000"/>
<rect x="728" y="323" width="1" height="3" fill="#008000"/>
<rect x="732" y="312" width="1" height="3" fill="#008000"/>
<rect x="733" y="307" width="3" height="29" fill="#ff0000"/>
<rect x="732" y="312" width="1" height="3" fill="#ff0000"/>
<rect x="736" y="328" width="1" height="3" fill="#ff0000"/>
<rect x="737" y="304" width="3" height="37" fill="#ff0000"/>
<rect x="736" y="328" width="1" height="3" fill="#ff0000"/>
<rect x="740" y="331" width="1" height="3" fill="#ff0000"/>
<rect x="741" y="295" width="3" height="39" fill="#008000"/>
<rect x="740" y="331" width="1" height="3" fill="#008000"/>
<rect x="744" y="302" width="1" height="3" fill="#008000"/>
<rect x="745" y="275" width="3" height="32" fill="#008000"/>
<rect x="744" y="302" width="1" height="3" fill="#008000"/>
<rect x="748" y="281" width="1" height="3" fill="#008000"/>
<rect x="749" y="256" width="3" height="33" fill="#008000"/>
<rect x="748" y="281" width="1" height="3" fill="#008000"/>
<rect x="752" y="262" width="1" height="3" fill="#008000"/>
<rect x="753" y="250" width="3" height="29" fill="#ff0000"/>
<rect x="752" y="262" width="1" height="3" fill="#ff0000"/>
<rect x="756" y="271" width="1" height="3" fill="#ff0000"/>
<rect x="757" y="256" width="3" height="24" fill="#ff0000"/>
<rect x="756" y="271" width="1" height="3" fill="#ff0000"/>
<rect x="760" y="273" width="1" height="3" fill="#ff0000"/>
<rect x="761" y="269" width="3" height="38" fill="#ff0000"/>
<rect x="760" y="273" width="1" height="3" fill="#ff0000"/>
<rect x="764" y="297" width="1" height="3" fill="#ff0000"/>
<rect x="765" y="290" width="3" height="29" fill="#008000"/>
<rect x="764" y="297" width="1" height="3" fill="#008000"/>
<rect x="768" y="295" width="1" height="3" fill="#008000"/>
<rect x="770" y="281" width="3" height="28" fill="#008000"/>
<rect x="769" y="295" width="1" height="3" fill="#008000"/>
<rect x="773" y="286" width="1" height="3" fill="#008000"/>
<rect x="774" y="280" width="3" height="31" fill="#ff0000"/>
<rect x="773" y="286" width="1" height="3" fill="#ff0000"/>
<rect x="777" y="302" width="1" height="3" fill="#ff0000"/>
<rect x="778" y="303" width="3" height="67" fill="#ff0000"/>
<rect x="777" y="303" width="1" height="3" fill="#ff0000"/>
<rect x="781" y="353" width="1" height="3" fill="#ff0000"/>
<rect x="782" y="332" width="3" height="40" fill="#008000"/>
<rect x="781" y="353" width="1" height="3" fill="#008000"/>
<rect x="785" y="340" width="1" height="3" fill="#008000"/>
<rect x="786" y="312" width="3" height="33" fill="#008000"/>
<rect x="785" y="340" width="1" height="3" fill="#008000"/>
<rect x="789" y="318" width="1" height="3" fill="#008000"/>
<rect x="790" y="293" width="3" height="31" fill="#008000"/>
<rect x="789" y="318" width="1" height="3" fill="#008000"/>
<rect x="793" y="299" width="1" height="3" fill="#008000"/>
<rect x="794" y="291" width="3" height="26" fill="#008000"/>
<rect x="793" y="299" width="1" height="3" fill="#008000"/>
<rect x="797" y="295" width="1" height="3" fill="#008000"/>
<rect x="798" y="273" width="3" height="21" fill="#008000"/>
<rect x="797" y="291" width="1" height="3" fill="#008000"/>
<rect x="801" y="276" width="1" height="3" fill="#008000"/>
<rect x="802" y="254" width="3" height="33" fill="#008000"/>
<rect x="801" y="276" width="1" height="3" fill="#008000"/>
<rect x="805" y="260" width="1" height="3" fill="#008000"/>
<rect x="807" y="257" width="3" height="32" fill="#008000"/>
<rect x="806" y="260" width="1" height="3" fill="#008000"/>
<rect x="810" y="263" width="1" height="3" fill="#008000"/>
<rect x="811" y="239" width="3" height="25" fill="#008000"/>
<rect x="810" y="261" width="1" height="3" fill="#008000"/>
<rect x="814" y="243" width="1" height="3" fill="#008000"/>
<rect x="815" y="233" width="3" height="23" fill="#008000"/>
<rect x="814" y="243" width="1" height="3" fill="#008000"/>
<rect x="818" y="237" width="1" height="3" fill="#008000"/>
<rect x="819" y="232" width="3" height="24" fill="#ff0000"/>
<rect x="818" y="237" width="1" height="3" fill="#ff0000"/>
<rect x="822" y="249" width="1" height="3" fill="#ff0000"/>
<rect x="823" y="209" width="3" height="29" fill="#008000"/>
<rect x="822" y="235" width="1" height="3" fill="#008000"/>
<rect x="826" y="214" width="1" height="3" fill="#008000"/>
<rect x="827" y="198" width="3" height="29" fill="#ff0000"/>
<rect x="826" y="214" width="1" height="3" fill="#ff0000"/>
<rect x="830" y="219" width="1" height="3" fill="#ff0000"/>
<rect x="831" y="208" width="3" height="28" fill="#008000"/>
<rect x="830" y="219" width="1" height="3" fill="#008000"/>
<rect x="834" y="213" width="1" height="3" fill="#008000"/>
<rect x="835" y="210" width="3" height="16" fill="#ff0000"/>
<rect x="834" y="213" width="1" height="3" fill="#ff0000"/>
<rect x="838" y="221" width="1" height="3" fill="#ff0000"/>
<rect x="839" y="204" width="3" height="35" fill="#008000"/>
<rect x="838" y="221" width="1" height="3" fill="#008000"/>
<rect x="842" y="210" width="1" height="3" fill="#008000"/>
<rect x="844" y="199" width="3" height="48" fill="#ff0000"/>
<rect x="843" y="210" width="1" height="3" fill="#ff0000"/>
<rect x="847" y="235" width="1" height="3" fill="#ff0000"/>
<rect x="848" y="221" width="3" height="28" fill="#008000"/>
<rect x="847" y="235" width="1" height="3" fill="#008000"/>
<rect x="851" y="226" width="1" height="3" fill="#008000"/>
<rect x="852" y="224" width="3" height="47" fill="#ff0000"/>
<rect x="851" y="226" width="1" height="3" fill="#ff0000"/>
<rect x="855" y="259" width="1" height="3" fill="#ff0000"/>
<rect x="856" y="261" width="3" height="23" fill="#ff0000"/>
<rect x="855" y="261" width="1" height="3" fill="#ff0000"/>
<rect x="859" y="277" width="1" height="3" fill="#ff0000"/>
<rect x="860" y="271" width="3" height="28" fill="#ff0000"/>
<rect x="859" y="277" width="1" height="3" fill="#ff0000"/>
<rect x="863" y="291" width="1" height="3" fill="#ff0000"/>
<rect x="864" y="258" width="3" height="28" fill="#008000"/>
<rect x="863" y="283" width="1" height="3" fill="#008000"/>
<rect x="867" y="263" width="1" height="3" fill="#008000"/>
<rect x="868" y="259" width="3" height="54" fill="#ff0000"/>
<rect x="867" y="263" width="1" height="3" fill="#ff0000"/>
<rect x="871" y="299" width="1" height="3" fill="#ff0000"/>
<rect x="872" y="295" width="3" height="33" fill="#ff0000"/>
<rect x="871" y="299" width="1" height="3" fill="#ff0000"/>
<rect x="875" y="319" width="1" height="3" fill="#ff0000"/>
<rect x="876" y="321" width="3" height="24" fill="#ff0000"/>
<rect x="875" y="321" width="1" height="3" fill="#ff0000"/>
<rect x="879" y="338" width="1" height="3" fill="#ff0000"/>
<rect x="881" y="289" width="3" height="42" fill="#008000"/>
<rect x="880" y="327" width="1" height="3" fill="#008000"/>
<rect x="884" y="297" width="1" height="3" fill="#008000"/>
<rect x="885" y="296" width="3" height="17" fill="#008000"/>
<rect x="884" y="297" width="1" height="3" fill="#008000"/>
<rect x="888" y="299" width="1" height="3" fill="#008000"/>
<rect x="889" y="276" width="3" height="31" fill="#008000"/>
<rect x="888" y="299" width="1" height="3" fill="#008000"/>
<rect x="892" y="282" width="1" height="3" fill="#008000"/>
<rect x="893" y="272" width="3" height="23" fill="#008000"/>
<rect x="892" y="282" width="1" height="3" fill="#008000"/>
<rect x="896" y="276" width="1" height="3" fill="#008000"/>
<rect x="897" y="266" width="3" height="25" fill="#008000"/>
<rect x="896" y="276" width="1" height="3" fill="#008000"/>
<rect x="900" y="270" width="1" height="3" fill="#008000"/>
<rect x="901" y="253" width="3" height="16" fill="#008000"/>
<rect x="900" y="265" width="1" height="3" fill="#008000"/>
<rect x="904" y="255" width="1" height="3" fill="#008000"/>
<rect x="905" y="245" width="3" height="33" fill="#008000"/>
<rect x="904" y="255" width="1" height="3" fill="#008000"/>
<rect x="908" y="251" width="1" height="3" fill="#008000"/>
<rect x="909" y="257" width="3" height="26" fill="#ff0000"/>
<rect x="908" y="257" width="1" height="3" fill="#ff0000"/>
<rect x="912" y="275" width="1" height="3" fill="#ff0000"/>
<rect x="913" y="258" width="3" height="16" fill="#ff0000"/>
<rect x="912" y="271" width="1" height="3" fill="#ff0000"/>
<rect x="916" y="269" width="1" height="3" fill="#ff0000"/>
<rect x="918" y="265" width="3" height="36" fill="#ff0000"/>
<rect x="917" y="269" width="1" height="3" fill="#ff0000"/>
<rect x="921" y="291" width="1" height="3" fill="#ff0000"/>
<rect x="922" y="275" width="3" height="19" fill="#008000"/>
<rect x="921" y="291" width="1" height="3" fill="#008000"/>
<rect x="925" y="278" width="1" height="3" fill="#008000"/>
<rect x="926" y="259" width="3" height="30" fill="#008000"/>
<rect x="925" y="278" width="1" height="3" fill="#008000"/>
<rect x="929" y="264" width="1" height="3" fill="#008000"/>
<rect x="930" y="254" width="3" height="16" fill="#008000"/>
<rect x="929" y="264" width="1" height="3" fill="#008000"/>
<rect x="933" y="256" width="1" height="3" fill="#008000"/>
<rect x="934" y="245" width="3" height="26" fill="#ff0000"/>
<rect x="933" y="256" width="1" height="3" fill="#ff0000"/>
<rect x="937" y="263" width="1" height="3" fill="#ff0000"/>
<rect x="938" y="222" width="3" height="49" fill="#008000"/>
<rect x="937" y="263" width="1" height="3" fill="#008000"/>
<rect x="941" y="232" width="1" height="3" fill="#008000"/>
<rect x="942" y="213" width="3" height="17" fill="#008000"/>
<rect x="941" y="227" width="1" height="3" fill="#008000"/>
<rect x="945" y="216" width="1" height="3" fill="#008000"/>
<rect x="946" y="215" width="3" height="21" fill="#ff0000"/>
<rect x="945" y="216" width="1" height="3" fill="#ff0000"/>
<rect x="949" y="230" width="1" height="3" fill="#ff0000"/>
<rect x="950" y="212" width="3" height="43" fill="#ff0000"/>
<rect x="949" y="230" width="1" height="3" fill="#ff0000"/>
<rect x="953" y="244" width="1" height="3" fill="#ff0000"/>
<rect x="955" y="228" width="3" height="19" fill="#008000"/>
<rect x="954" y="243" width="1" height="3" fill="#008000"/>
<rect x="958" y="231" width="1" height="3" fill="#008000"/>
<rect x="959" y="234" width="3" height="30" fill="#ff0000"/>
<rect x="958" y="235" width="1" height="3" fill="#ff0000"/>
<rect x="962" y="256" width="1" height="3" fill="#ff0000"/>
<rect x="963" y="241" width="3" height="17" fill="#008000"/>
<rect x="962" y="255" width="1" height="3" fill="#008000"/>
<rect x="966" y="244" width="1" height="3" fill="#008000"/>
<rect x="967" y="239" width="3" height="19" fill="#ff0000"/>
<rect x="966" y="244" width="1" height="3" fill="#ff0000"/>
<rect x="970" y="252" width="1" height="3" fill="#ff0000"/>
<rect x="971" y="244" width="3" height="31" fill="#008000"/>
<rect x="970" y="252" width="1" height="3" fill="#008000"/>
<rect x="974" y="250" width="1" height="3" fill="#008000"/>
<rect x="975" y="225" width="3" height="34" fill="#008000"/>
<rect x="974" y="250" width="1" height="3" fill="#008000"/>
<rect x="978" y="231" width="1" height="3" fill="#008000"/>
<rect x="979" y="228" width="3" height="20" fill="#ff0000"/>
<rect x="978" y="231" width="1" height="3" fill="#ff0000"/>
<rect x="982" y="242" width="1" height="3" fill="#ff0000"/>
<rect x="983" y="225" width="3" height="17" fill="#008000"/>
<rect x="982" y="239" width="1" height="3" fill="#008000"/>
<rect x="986" y="228" width="1" height="3" fill="#008000"/>
<rect x="987" y="226" width="3" height="28" fill="#ff0000"/>
<rect x="986" y="228" width="1" height="3" fill="#ff0000"/>
<rect x="990" y="246" width="1" height="3" fill="#ff0000"/>
<rect x="991" y="244" width="3" height="26" fill="#ff0000"/>
<rect x="990" y="246" width="1" height="3" fill="#ff0000"/>
<rect x="994" y="263" width="1" height="3" fill="#ff0000"/>
<rect x="996" y="259" width="3" height="19" fill="#008000"/>
<rect x="995" y="263" width="1" height="3" fill="#008000"/>
<rect x="999" y="262" width="1" height="3" fill="#008000"/>
<rect x="1000" y="257" width="3" height="10" fill="#ff0000"/>
<rect x="999" y="262" width="1" height="3" fill="#ff0000"/>
<rect x="1003" y="263" width="1" height="3" fill="#ff0000"/>
<rect x="1004" y="251" width="3" height="37" fill="#ff0000"/>
<rect x="1003" y="263" width="1" height="3" fill="#ff0000"/>
<rect x="1007" y="278" width="1" height="3" fill="#ff0000"/>
<rect x="1008" y="278" width="3" height="31" fill="#ff0000"/>
<rect x="1007" y="279" width="1" height="3" fill="#ff0000"/>
<rect x="1011" y="300" width="1" height="3" fill="#ff0000"/>
<rect x="1012" y="283" width="3" height="23" fill="#ff0000"/>
<rect x="1011" y="300" width="1" height="3" fill="#ff0000"/>
<rect x="1015" y="299" width="1" height="3" fill="#ff0000"/>
<rect x="1016" y="300" width="3" height="42" fill="#ff0000"/>
<rect x="1015" y="301" width="1" height="3" fill="#ff0000"/>
<rect x="1019" y="331" width="1" height="3" fill="#ff0000"/>
<rect x="1020" y="314" width="3" height="30" fill="#008000"/>
<rect x="1019" y="331" width="1" height="3" fill="#008000"/>
<rect x="1023" y="319" width="1" height="3" fill="#008000"/>
<rect x="1024" y="311" width="3" height="30" fill="#ff0000"/>
<rect x="1023" y="319" width="1" height="3" fill="#ff0000"/>
<rect x="1027" y="333" width="1" height="3" fill="#ff0000"/>
<rect x="1028" y="312" width="3" height="21" fill="#ff0000"/>
<rect x="1027" y="329" width="1" height="3" fill="#ff0000"/>
<rect x="1031" y="327" width="1" height="3" fill="#ff0000"/>
<rect x="1033" y="326" width="3" height="29" fill="#ff0000"/>
<rect x="1032" y="327" width="1" height="3" fill="#ff0000"/>
<rect x="1036" y="347" width="1" height="3" fill="#ff0000"/>
<rect x="1037" y="331" width="3" height="25" fill="#ff0000"/>
<rect x="1036" y="347" width="1" height="3" fill="#ff0000"/>
<rect x="1040" y="349" width="1" height="3" fill="#ff0000"/>
<rect x="1041" y="298" width="3" height="57" fill="#008000"/>
<rect x="1040" y="349" width="1" height="3" fill="#008000"/>
<rect x="1044" y="309" width="1" height="3" fill="#008000"/>
<rect x="1045" y="286" width="3" height="21" fill="#008000"/>
<rect x="1044" y="303" width="1" height="3" fill="#008000"/>
<rect x="1048" y="289" width="1" height="3" fill="#008000"/>
<rect x="1049" y="270" width="3" height="24" fill="#008000"/>
<rect x="1048" y="289" width="1" height="3" fill="#008000"/>
<rect x="1052" y="274" width="1" height="3" fill="#008000"/>
<rect x="1053" y="255" width="3" height="26" fill="#008000"/>
<rect x="1052" y="274" width="1" height="3" fill="#008000"/>
<rect x="1056" y="259" width="1" height="3" fill="#008000"/>
<rect x="1057" y="252" width="3" height="24" fill="#008000"/>
<rect x="1056" y="259" width="1" height="3" fill="#008000"/>
<rect x="1060" y="256" width="1" height="3" fill="#008000"/>
<rect x="1061" y="234" width="3" height="45" fill="#008000"/>
<rect x="1060" y="256" width="1" height="3" fill="#008000"/>
<rect x="1064" y="243" width="1" height="3" fill="#008000"/>
<rect x="1065" y="199" width="3" height="47" fill="#008000"/>
<rect x="1064" y="243" width="1" height="3" fill="#008000"/>
<rect x="1068" y="208" width="1" height="3" fill="#008000"/>
<rect x="1070" y="176" width="3" height="44" fill="#008000"/>
<rect x="1069" y="208" width="1" height="3" fill="#008000"/>
<rect x="1073" y="184" width="1" height="3" fill="#008000"/>
<rect x="1074" y="189" width="3" height="40" fill="#ff0000"/>
<rect x="1073" y="189" width="1" height="3" fill="#ff0000"/>
<rect x="1077" y="218" width="1" height="3" fill="#ff0000"/>
<rect x="1078" y="205" width="3" height="28" fill="#008000"/>
<rect x="1077" y="218" width="1" height="3" fill="#008000"/>
<rect x="1081" y="210" width="1" height="3" fill="#008000"/>
<rect x="1082" y="195" width="3" height="30" fill="#008000"/>
<rect x="1081" y="210" width="1" height="3" fill="#008000"/>
<rect x="1085" y="200" width="1" height="3" fill="#008000"/>
<rect x="1086" y="172" width="3" height="39" fill="#008000"/>
<rect x="1085" y="200" width="1" height="3" fill="#008000"/>
<rect x="1089" y="179" width="1" height="3" fill="#008000"/>
<rect x="1090" y="176" width="3" height="14" fill="#008000"/>
<rect x="1089" y="179" width="1" height="3" fill="#008000"/>
<rect x="1093" y="178" width="1" height="3" fill="#008000"/>
<rect x="1094" y="149" width="3" height="38" fill="#008000"/>
<rect x="1093" y="178" width="1" height="3" fill="#008000"/>
<rect x="1097" y="156" width="1" height="3" fill="#008000"/>
<rect x="1098" y="140" width="3" height="47" fill="#008000"/>
<rect x="1097" y="156" width="1" height="3" fill="#008000"/>
<rect x="1101" y="149" width="1" height="3" fill="#008000"/>
<rect x="1102" y="136" width="3" height="33" fill="#ff0000"/>
<rect x="1101" y="149" width="1" height="3" fill="#ff0000"/>
<rect x="1105" y="160" width="1" height="3" fill="#ff0000"/>
<rect x="1107" y="150" width="3" height="49" fill="#ff0000"/>
<rect x="1106" y="160" width="1" height="3" fill="#ff0000"/>
<rect x="1110" y="186" width="1" height="3" fill="#ff0000"/>
<rect x="1111" y="168" width="3" height="36" fill="#008000"/>
<rect x="1110" y="186" width="1" height="3" fill="#008000"/>
<rect x="1114" y="175" width="1" height="3" fill="#008000"/>
<rect x="1115" y="141" width="3" height="55" fill="#ff0000"/>
<rect x="1114" y="175" width="1" height="3" fill="#ff0000"/>
<rect x="1118" y="182" width="1" height="3" fill="#ff0000"/>
<rect x="1119" y="169" width="3" height="42" fill="#ff0000"/>
<rect x="1118" y="182" width="1" height="3" fill="#ff0000"/>
<rect x="1122" y="200" width="1" height="3" fill="#ff0000"/>
<rect x="1123" y="192" width="3" height="23" fill="#ff0000"/>
<rect x="1122" y="200" width="1" height="3" fill="#ff0000"/>
<rect x="1126" y="208" width="1" height="3" fill="#ff0000"/>
<rect x="1127" y="186" width="3" height="34" fill="#008000"/>
<rect x="1126" y="208" width="1" height="3" fill="#008000"/>
<rect x="1130" y="192" width="1" height="3" fill="#008000"/>
<rect x="1131" y="191" width="3" height="85" fill="#ff0000"/>
<rect x="1130" y="192" width="1" height="3" fill="#ff0000"/>
<rect x="1134" y="256" width="1" height="3" fill="#ff0000"/>
<rect x="1135" y="259" width="3" height="22" fill="#ff0000"/>
<rect x="1134" y="259" width="1" height="3" fill="#ff0000"/>
<rect x="1138" y="274" width="1" height="3" fill="#ff0000"/>
<rect x="1139" y="266" width="3" height="23" fill="#008000"/>
<rect x="1138" y="274" width="1" height="3" fill="#008000"/>
<rect x="1142" y="270" width="1" height="3" fill="#008000"/>
<rect x="1144" y="256" width="3" height="19" fill="#ff0000"/>
<rect x="1143" y="270" width="1" height="3" fill="#ff0000"/>
<rect x="1147" y="269" width="1" height="3" fill="#ff0000"/>
<rect x="1148" y="262" width="3" height="69" fill="#ff0000"/>
<rect x="1147" y="269" width="1" height="3" fill="#ff0000"/>
<rect x="1151" y="314" width="1" height="3" fill="#ff0000"/>
<rect x="1152" y="279" width="3" height="102" fill="#ff0000"/>
<rect x="1151" y="314" width="1" height="3" fill="#ff0000"/>
<rect x="1155" y="356" width="1" height="3" fill="#ff0000"/>
<rect x="1156" y="354" width="3" height="24" fill="#ff0000"/>
<rect x="1155" y="356" width="1" height="3" fill="#ff0000"/>
<rect x="1159" y="371" width="1" height="3" fill="#ff0000"/>
<rect x="1160" y="360" width="3" height="47" fill="#008000"/>
<rect x="1159" y="371" width="1" height="3" fill="#008000"/>
<rect x="1163" y="369" width="1" height="3" fill="#008000"/>
<rect x="1164" y="348" width="3" height="35" fill="#008000"/>
<rect x="1163" y="369" width="1" height="3" fill="#008000"/>
<rect x="1167" y="354" width="1" height="3" fill="#008000"/>
<rect x="1168" y="337" width="3" height="40" fill="#008000"/>
<rect x="1167" y="354" width="1" height="3" fill="#008000"/>
<rect x="1171" y="344" width="1" height="3" fill="#008000"/>
<rect x="1172" y="312" width="3" height="39" fill="#008000"/>
<rect x="1171" y="344" width="1" height="3" fill="#008000"/>
<rect x="1175" y="319" width="1" height="3" fill="#008000"/>
<rect x="1176" y="336" width="3" height="42" fill="#ff0000"/>
<rect x="1175" y="336" width="1" height="3" fill="#ff0000"/>
<rect x="1179" y="367" width="1" height="3" fill="#ff0000"/>
<rect x="1181" y="344" width="3" height="41" fill="#008000"/>
<rect x="1180" y="367" width="1" height="3" fill="#008000"/>
<rect x="1184" y="351" width="1" height="3" fill="#008000"/>
<rect x="1185" y="368" width="3" height="25" fill="#ff0000"/>
<rect x="1184" y="368" width="1" height="3" fill="#ff0000"/>
<rect x="1188" y="385" width="1" height="3" fill="#ff0000"/>
<rect x="1189" y="368" width="3" height="41" fill="#ff0000"/>
<rect x="1188" y="385" width="1" height="3" fill="#ff0000"/>
<rect x="1192" y="398" width="1" height="3" fill="#ff0000"/>
<rect x="1193" y="382" width="3" height="27" fill="#008000"/>
<rect x="1192" y="398" width="1" height="3" fill="#008000"/>
<rect x="1196" y="386" width="1" height="3" fill="#008000"/>
<rect x="1197" y="376" width="3" height="55" fill="#ff0000"/>
<rect x="1196" y="386" width="1" height="3" fill="#ff0000"/>
<rect x="1200" y="417" width="1" height="3" fill="#ff0000"/>
<rect x="1201" y="420" width="3" height="26" fill="#ff0000"/>
<rect x="1200" y="421" width="1" height="3" fill="#ff0000"/>
<rect x="1204" y="439" width="1" height="3" fill="#ff0000"/>
<rect x="1205" y="408" width="3" height="25" fill="#008000"/>
<rect x="1204" y="429" width="1" height="3" fill="#008000"/>
<rect x="1208" y="412" width="1" height="3" fill="#008000"/>
<rect x="1209" y="384" width="3" height="31" fill="#008000"/>
<rect x="1208" y="411" width="1" height="3" fill="#008000"/>
<rect x="1212" y="389" width="1" height="3" fill="#008000"/>
<rect x="1213" y="394" width="3" height="31" fill="#ff0000"/>
<rect x="1212" y="394" width="1" height="3" fill="#ff0000"/>
<rect x="1216" y="416" width="1" height="3" fill="#ff0000"/>
<rect x="1217" y="351" width="3" height="66" fill="#008000"/>
<rect x="1216" y="413" width="1" height="3" fill="#008000"/>
<rect x="1220" y="364" width="1" height="3" fill="#008000"/>
<rect x="1222" y="378" width="3" height="27" fill="#ff0000"/>
<rect x="1221" y="379" width="1" height="3" fill="#ff0000"/>
<rect x="1225" y="397" width="1" height="3" fill="#ff0000"/>
<rect x="1226" y="388" width="3" height="25" fill="#ff0000"/>
<rect x="1225" y="397" width="1" height="3" fill="#ff0000"/>
<rect x="1229" y="405" width="1" height="3" fill="#ff0000"/>
<rect x="1230" y="382" width="3" height="30" fill="#ff0000"/>
<rect x="1229" y="405" width="1" height="3" fill="#ff0000"/>
<rect x="1233" y="404" width="1" height="3" fill="#ff0000"/>
<rect x="1234" y="384" width="3" height="27" fill="#008000"/>
<rect x="1233" y="404" width="1" height="3" fill="#008000"/>
<rect x="1237" y="389" width="1" height="3" fill="#008000"/>
<rect x="1238" y="386" width="3" height="29" fill="#008000"/>
<rect x="1237" y="389" width="1" height="3" fill="#008000"/>
<rect x="1241" y="391" width="1" height="3" fill="#008000"/>
<rect x="1242" y="392" width="3" height="25" fill="#ff0000"/>
<rect x="1241" y="392" width="1" height="3" fill="#ff0000"/>
<rect x="1245" y="410" width="1" height="3" fill="#ff0000"/>
<rect x="1246" y="406" width="3" height="43" fill="#ff0000"/>
<rect x="1245" y="410" width="1" height="3" fill="#ff0000"/>
<rect x="1249" y="438" width="1" height="3" fill="#ff0000"/>
<rect x="1250" y="394" width="3" height="33" fill="#008000"/>
<rect x="1249" y="423" width="1" height="3" fill="#008000"/>
<rect x="1253" y="400" width="1" height="3" fill="#008000"/>
<rect x="1254" y="402" width="3" height="17" fill="#ff0000"/>
<rect x="1253" y="402" width="1" height="3" fill="#ff0000"/>
<rect x="1257" y="413" width="1" height="3" fill="#ff0000"/>
<rect x="1259" y="370" width="3" height="39" fill="#008000"/>
<rect x="1258" y="405" width="1" height="3" fill="#008000"/>
<rect x="1262" y="377" width="1" height="3" fill="#008000"/>
<rect x="1263" y="371" width="3" height="32" fill="#ff0000"/>
<rect x="1262" y="377" width="1" height="3" fill="#ff0000"/>
<rect x="1266" y="394" width="1" height="3" fill="#ff0000"/>
<rect x="1267" y="378" width="3" height="21" fill="#008000"/>
<rect x="1266" y="394" width="1" height="3" fill="#008000"/>
<rect x="1270" y="381" width="1" height="3" fill="#008000"/>
<rect x="1271" y="360" width="3" height="31" fill="#008000"/>
<rect x="1270" y="381" width="1" height="3" fill="#008000"/>
<rect x="1274" y="366" width="1" height="3" fill="#008000"/>
<rect x="1275" y="348" width="3" height="23" fill="#ff0000"/>
<rect x="1274" y="366" width="1" height="3" fill="#ff0000"/>
<rect x="1278" y="364" width="1" height="3" fill="#ff0000"/>
<rect x="1279" y="363" width="3" height="16" fill="#ff0000"/>
<rect x="1278" y="364" width="1" height="3" fill="#ff0000"/>
<rect x="1282" y="374" width="1" height="3" fill="#ff0000"/>
<rect x="1283" y="345" width="3" height="28" fill="#008000"/>
<rect x="1282" y="369" width="1" height="3" fill="#008000"/>
<rect x="1286" y="350" width="1" height="3" fill="#008000"/>
<rect x="1287" y="348" width="3" height="21" fill="#ff0000"/>
<rect x="1286" y="350" width="1" height="3" fill="#ff0000"/>
<rect x="1290" y="362" width="1" height="3" fill="#ff0000"/>
<rect x="1291" y="365" width="3" height="18" fill="#ff0000"/>
<rect x="1290" y="365" width="1" height="3" fill="#ff0000"/>
<rect x="1294" y="377" width="1" height="3" fill="#ff0000"/>
<rect x="1296" y="370" width="3" height="27" fill="#ff0000"/>
<rect x="1295" y="377" width="1" height="3" fill="#ff0000"/>
<rect x="1299" y="389" width="1" height="3" fill="#ff0000"/>
<rect x="1300" y="382" width="3" height="29" fill="#008000"/>
<rect x="1299" y="389" width="1" height="3" fill="#008000"/>
<rect x="1303" y="387" width="1" height="3" fill="#008000"/>
<rect x="1304" y="390" width="3" height="23" fill="#ff0000"/>
<rect x="1303" y="391" width="1" height="3" fill="#ff0000"/>
<rect x="1307" y="406" width="1" height="3" fill="#ff0000"/>
<rect x="1308" y="388" width="3" height="21" fill="#008000"/>
<rect x="1307" y="405" width="1" height="3" fill="#008000"/>
<rect x="1311" y="391" width="1" height="3" fill="#008000"/>
<rect x="1312" y="372" width="3" height="29" fill="#008000"/>
<rect x="1311" y="391" width="1" height="3" fill="#008000"/>
<rect x="1315" y="377" width="1" height="3" fill="#008000"/>
<rect x="1316" y="370" width="3" height="19" fill="#008000"/>
<rect x="1315" y="377" width="1" height="3" fill="#008000"/>
<rect x="1319" y="373" width="1" height="3" fill="#008000"/>
<rect x="1320" y="368" width="3" height="49" fill="#ff0000"/>
<rect x="1319" y="373" width="1" height="3" fill="#ff0000"/>
<rect x="1323" y="404" width="1" height="3" fill="#ff0000"/>
<rect x="1324" y="418" width="3" height="44" fill="#ff0000"/>
<rect x="1323" y="419" width="1" height="3" fill="#ff0000"/>
<rect x="1327" y="451" width="1" height="3" fill="#ff0000"/>
<rect x="1328" y="402" width="3" height="24" fill="#008000"/>
<rect x="1327" y="423" width="1" height="3" fill="#008000"/>
<rect x="1331" y="406" width="1" height="3" fill="#008000"/>
<rect x="1333" y="408" width="3" height="30" fill="#ff0000"/>
<rect x="1332" y="408" width="1" height="3" fill="#ff0000"/>
<rect x="1336" y="430" width="1" height="3" fill="#ff0000"/>
<rect x="1337" y="398" width="3" height="32" fill="#008000"/>
<rect x="1336" y="427" width="1" height="3" fill="#008000"/>
<rect x="1340" y="404" width="1" height="3" fill="#008000"/>
<rect x="1341" y="400" width="3" height="17" fill="#ff0000"/>
<rect x="1340" y="404" width="1" height="3" fill="#ff0000"/>
<rect x="1344" y="411" width="1" height="3" fill="#ff0000"/>
<rect x="1345" y="382" width="3" height="24" fill="#008000"/>
<rect x="1344" y="403" width="1" height="3" fill="#008000"/>
<rect x="1348" y="386" width="1" height="3" fill="#008000"/>
</g>
<rect x="629.5" y="350.5" width="756" height="14" fill="rgba(110,128,152,0.40)" stroke="rgba(110,128,152,0.55)" stroke-width="1"/>
<line x1="1135" y1="353" x2="1386" y2="353" stroke="#0a0aee" stroke-width="1.6"/>
<line x1="1136" y1="446.2" x2="1387" y2="446.2" stroke="#0a0aee" stroke-width="1.6"/>
<path d="M69.0,337.0 C69.6,336.5 71.1,333.5 72.5,334.0 C73.9,334.5 75.0,338.2 77.5,340.0 C80.0,341.8 83.8,343.6 87.5,345.0 C91.2,346.4 96.9,347.8 100.0,348.5 C103.1,349.2 104.2,348.2 106.0,349.0 C107.8,349.8 109.1,351.1 111.0,353.5 C112.9,355.9 114.3,360.2 117.5,363.5 C120.7,366.8 126.2,370.4 130.0,373.5 C133.8,376.6 136.7,377.8 140.0,382.0 C143.3,386.2 146.2,392.3 150.0,398.5 C153.8,404.7 157.8,412.9 162.5,419.0 C167.2,425.1 171.8,430.4 178.0,435.0 C184.2,439.6 193.7,443.0 200.0,446.5 C206.3,450.0 210.8,452.1 216.0,456.0 C221.2,459.9 224.7,465.0 231.0,470.0 C237.3,475.0 246.7,481.4 254.0,486.0 C261.3,490.6 269.7,495.1 275.0,497.5 C280.3,499.9 282.7,499.9 286.0,500.5 C289.3,501.1 290.2,500.1 295.0,501.0 C299.8,501.9 307.7,503.8 315.0,506.0 C322.3,508.2 331.5,512.6 339.0,514.0 C346.5,515.4 349.4,514.4 360.0,514.5 C370.6,514.6 391.7,514.9 402.5,514.5 C413.3,514.1 417.1,512.9 425.0,512.0 C432.9,511.1 442.6,509.8 450.0,509.0 C457.4,508.2 461.2,509.0 469.5,507.0 C477.8,505.0 491.6,500.0 500.0,497.0 C508.4,494.0 514.0,491.8 520.0,489.0 C526.0,486.2 531.8,481.9 536.0,480.0 C540.2,478.1 539.3,481.2 545.0,477.5 C550.7,473.8 562.5,463.3 570.0,457.5 C577.5,451.7 584.6,446.7 590.0,442.5 C595.4,438.3 599.2,436.2 602.5,432.5 C605.8,428.8 606.7,424.8 610.0,420.0 C613.3,415.2 618.2,408.8 622.5,404.0 C626.8,399.2 630.6,394.3 636.0,391.0 C641.4,387.7 648.1,385.8 655.0,384.0 C661.9,382.2 670.0,381.7 677.5,380.5 C685.0,379.3 693.9,377.7 700.0,376.8 C706.1,375.9 709.0,375.2 714.0,374.9 C719.0,374.6 718.3,375.4 730.0,374.8 C741.7,374.2 771.9,372.1 784.0,371.3 C796.1,370.5 789.4,371.5 802.5,370.0 C815.6,368.5 844.7,364.2 862.5,362.5 C880.3,360.8 897.4,360.7 909.5,360.0 C921.6,359.3 926.6,358.9 935.0,358.2 C943.4,357.5 950.8,356.7 960.0,356.0 C969.2,355.3 977.9,354.6 990.0,353.9 C1002.1,353.2 1021.1,352.3 1032.6,351.6 C1044.1,350.9 1048.5,350.6 1059.2,349.6 C1069.9,348.7 1087.2,347.1 1096.5,345.9 C1105.8,344.7 1109.0,343.6 1115.0,342.6 C1121.0,341.6 1126.5,340.4 1132.7,339.7 C1138.9,339.0 1147.3,338.7 1151.9,338.7 C1156.5,338.7 1151.6,339.4 1160.4,339.7 C1169.2,340.0 1189.2,339.7 1205.0,340.3 C1220.8,340.9 1236.2,342.7 1255.0,343.5 C1273.8,344.3 1302.2,344.5 1317.5,345.0 C1332.8,345.5 1342.1,346.2 1347.0,346.5" fill="none" stroke="#2e2e2e" stroke-width="1.1"/>
<path d="M1102.5,150.0 C1104.2,152.9 1109.6,164.2 1112.5,167.5 C1115.4,170.8 1117.2,168.1 1120.0,170.0 C1122.8,171.9 1126.5,175.2 1129.0,179.0 C1131.5,182.8 1133.0,188.6 1135.0,192.5 C1137.0,196.4 1139.2,200.0 1141.0,202.5 C1142.8,205.0 1144.5,205.0 1146.0,207.5 C1147.5,210.0 1148.7,212.9 1150.0,217.5 C1151.3,222.1 1152.5,230.0 1154.0,235.0 C1155.5,240.0 1157.2,243.3 1159.0,247.5 C1160.8,251.7 1161.5,255.6 1165.0,260.0 C1168.5,264.4 1174.2,268.2 1180.0,274.0 C1185.8,279.8 1193.3,288.8 1200.0,295.0 C1206.7,301.2 1212.1,305.8 1220.0,311.0 C1227.9,316.2 1239.2,322.4 1247.5,326.0 C1255.8,329.6 1262.9,331.0 1270.0,332.5 C1277.1,334.0 1282.0,333.7 1290.0,334.8 C1298.0,335.9 1311.7,337.6 1318.0,339.0 C1324.3,340.4 1324.8,341.9 1328.0,343.0 C1331.2,344.1 1333.8,344.9 1337.0,345.5 C1340.2,346.1 1345.3,346.2 1347.0,346.4" fill="none" stroke="#141414" stroke-width="1.15"/>
<line x1="1331" y1="345.6" x2="1347" y2="346.6" stroke="#000" stroke-width="1.6"/>
<line x1="1401.7" y1="390.0" x2="1418.0" y2="345.7" stroke="#008000" stroke-width="4.0"/><polygon points="1422.5,333.5 1424.6,350.0 1418.0,345.7 1410.2,344.7" fill="#008000"/>
<line x1="1401.7" y1="415.0" x2="1417.7" y2="458.4" stroke="#ff0000" stroke-width="4.0"/><polygon points="1422.2,470.6 1409.9,459.4 1417.7,458.4 1424.3,454.1" fill="#ff0000"/>
<path d="M7.0,827.0 C8.8,826.6 14.5,825.7 17.5,824.5 C20.5,823.3 22.1,820.6 25.0,820.0 C27.9,819.4 31.7,821.0 35.0,821.0 C38.3,821.0 41.8,820.6 45.0,820.0 C48.2,819.4 50.7,818.8 54.0,817.5 C57.3,816.2 62.5,817.5 65.0,812.5 C67.5,807.5 66.9,792.8 69.0,787.5 C71.1,782.2 74.0,782.7 77.5,781.0 C81.0,779.3 86.2,777.8 90.0,777.5 C93.8,777.2 96.7,777.8 100.0,779.0 C103.3,780.2 106.7,784.3 110.0,785.0 C113.3,785.7 116.7,783.5 120.0,783.0 C123.3,782.5 127.1,783.2 130.0,782.0 C132.9,780.8 135.2,778.4 137.5,776.0 C139.8,773.6 142.3,770.8 144.0,767.5 C145.7,764.2 146.5,757.4 147.5,756.0 C148.5,754.6 148.8,760.0 150.0,759.0 C151.2,758.0 152.9,753.2 155.0,750.0 C157.1,746.8 160.4,742.0 162.5,740.0 C164.6,738.0 165.4,737.8 167.5,738.0 C169.6,738.2 172.9,739.0 175.0,741.0 C177.1,743.0 177.9,745.8 180.0,750.0 C182.1,754.2 185.0,762.2 187.5,766.0 C190.0,769.8 192.1,769.8 195.0,772.5 C197.9,775.2 202.1,778.3 205.0,782.5 C207.9,786.7 210.4,793.3 212.5,797.5 C214.6,801.7 216.1,805.6 217.5,807.5 C218.9,809.4 219.6,809.4 221.0,809.0 C222.4,808.6 224.1,807.3 226.0,805.0 C227.9,802.7 230.2,797.9 232.5,795.0 C234.8,792.1 237.1,789.7 240.0,787.5 C242.9,785.3 247.1,782.8 250.0,782.0 C252.9,781.2 255.0,781.3 257.5,782.5 C260.0,783.7 262.1,786.2 265.0,789.0 C267.9,791.8 272.5,796.8 275.0,799.0 C277.5,801.2 278.8,800.8 280.0,802.5 C281.2,804.2 280.8,808.2 282.5,809.0 C284.2,809.8 287.1,807.2 290.0,807.0 C292.9,806.8 295.8,807.7 300.0,808.0 C304.2,808.3 309.2,809.1 315.0,809.0 C320.8,808.9 330.0,808.0 335.0,807.5 C340.0,807.0 341.7,806.8 345.0,806.0 C348.3,805.2 350.8,803.8 355.0,803.0 C359.2,802.2 364.3,801.9 370.0,801.0 C375.7,800.1 383.6,797.6 389.0,797.5 C394.4,797.4 399.0,798.2 402.5,800.5 C406.0,802.8 407.9,808.4 410.0,811.0 C412.1,813.6 413.2,815.5 415.0,816.0 C416.8,816.5 418.5,816.2 421.0,814.0 C423.5,811.8 426.8,806.3 430.0,802.5 C433.2,798.7 437.3,793.2 440.0,791.0 C442.7,788.8 443.5,789.1 446.0,789.0 C448.5,788.9 452.2,789.1 455.0,790.5 C457.8,791.9 460.0,795.8 462.5,797.5 C465.0,799.2 467.5,799.6 470.0,801.0 C472.5,802.4 475.2,804.7 477.5,806.0 C479.8,807.3 481.9,809.6 484.0,809.0 C486.1,808.4 487.8,804.4 490.0,802.5 C492.2,800.6 495.0,798.3 497.5,797.5 C500.0,796.7 502.5,799.4 505.0,797.5 C507.5,795.6 510.0,791.4 512.5,786.0 C515.0,780.6 517.5,773.3 520.0,765.0 C522.5,756.7 525.2,741.5 527.5,736.0 C529.8,730.5 531.5,732.0 534.0,732.0 C536.5,732.0 539.8,735.8 542.5,736.0 C545.2,736.2 547.9,732.4 550.0,733.0 C552.1,733.6 552.9,738.0 555.0,739.5 C557.1,741.0 560.0,741.9 562.5,742.0 C565.0,742.1 567.5,739.1 570.0,740.0 C572.5,740.9 574.6,744.2 577.5,747.5 C580.4,750.8 583.9,757.0 587.5,759.5 C591.1,762.0 596.5,762.4 599.0,762.5 C601.5,762.6 601.1,763.3 602.5,760.0 C603.9,756.7 605.6,747.1 607.5,742.5 C609.4,737.9 612.1,734.2 614.0,732.5 C615.9,730.8 617.2,730.9 619.0,732.0 C620.8,733.1 622.8,736.4 625.0,739.0 C627.2,741.6 630.0,744.7 632.5,747.5 C635.0,750.3 637.9,754.9 640.0,756.0 C642.1,757.1 643.3,755.7 645.0,754.0 C646.7,752.3 648.2,747.9 650.0,746.0 C651.8,744.1 653.9,743.9 656.0,742.5 C658.1,741.1 660.2,740.6 662.5,737.5 C664.8,734.4 667.5,729.4 670.0,724.0 C672.5,718.6 675.2,709.5 677.5,705.0 C679.8,700.5 681.9,697.0 684.0,697.0 C686.1,697.0 688.2,702.4 690.0,705.0 C691.8,707.6 693.3,708.8 695.0,712.5 C696.7,716.2 698.3,721.2 700.0,727.5 C701.7,733.8 703.3,742.9 705.0,750.0 C706.7,757.1 708.5,762.7 710.0,770.0 C711.5,777.3 712.8,789.7 714.0,794.0 C715.2,798.3 715.8,794.7 717.5,796.0 C719.2,797.3 721.1,801.2 724.0,802.0 C726.9,802.8 731.5,801.0 735.0,801.0 C738.5,801.0 740.0,802.0 745.0,802.0 C750.0,802.0 759.2,801.3 765.0,801.0 C770.8,800.7 776.2,799.4 780.0,800.0 C783.8,800.6 785.0,803.5 787.5,804.5 C790.0,805.5 792.1,806.3 795.0,806.0 C797.9,805.7 801.7,804.5 805.0,802.5 C808.3,800.5 812.1,796.1 815.0,794.0 C817.9,791.9 819.6,792.5 822.5,790.0 C825.4,787.5 829.4,782.0 832.5,779.0 C835.6,776.0 838.1,773.2 841.0,772.0 C843.9,770.8 847.2,771.5 850.0,772.0 C852.8,772.5 855.4,772.4 857.5,775.0 C859.6,777.6 860.6,784.0 862.5,787.5 C864.4,791.0 867.1,794.8 869.0,796.0 C870.9,797.2 872.2,796.3 874.0,795.0 C875.8,793.7 877.3,789.5 880.0,788.0 C882.7,786.5 886.7,786.3 890.0,786.0 C893.3,785.7 896.7,785.3 900.0,786.0 C903.3,786.7 907.1,788.3 910.0,790.0 C912.9,791.7 915.2,793.5 917.5,796.0 C919.8,798.5 921.5,802.3 924.0,805.0 C926.5,807.7 929.8,812.2 932.5,812.0 C935.2,811.8 937.5,806.4 940.0,804.0 C942.5,801.6 945.0,798.2 947.5,797.5 C950.0,796.8 952.5,797.8 955.0,799.5 C957.5,801.2 959.6,805.0 962.5,807.5 C965.4,810.0 967.9,813.3 972.5,814.5 C977.1,815.7 985.0,813.8 990.0,814.5 C995.0,815.2 998.8,819.3 1002.5,819.0 C1006.2,818.7 1009.8,816.3 1012.5,812.5 C1015.2,808.7 1016.1,800.2 1019.0,796.0 C1021.9,791.8 1026.5,790.3 1030.0,787.5 C1033.5,784.7 1036.7,780.1 1040.0,779.0 C1043.3,777.9 1046.2,779.6 1050.0,781.0 C1053.8,782.4 1059.2,788.3 1062.5,787.5 C1065.8,786.7 1067.1,779.3 1070.0,776.0 C1072.9,772.7 1076.7,771.4 1080.0,767.5 C1083.3,763.6 1087.1,756.7 1090.0,752.5 C1092.9,748.3 1095.2,744.9 1097.5,742.5 C1099.8,740.1 1101.9,738.0 1104.0,738.0 C1106.1,738.0 1108.0,739.7 1110.0,742.5 C1112.0,745.3 1113.9,749.6 1116.0,755.0 C1118.1,760.4 1120.2,769.6 1122.5,775.0 C1124.8,780.4 1127.1,785.7 1130.0,787.5 C1132.9,789.3 1136.8,787.4 1140.0,786.0 C1143.2,784.6 1146.5,784.6 1149.0,779.0 C1151.5,773.4 1153.0,761.1 1155.0,752.5 C1157.0,743.9 1158.7,733.8 1161.0,727.5 C1163.3,721.2 1166.2,717.6 1169.0,715.0 C1171.8,712.4 1174.8,711.6 1177.5,712.0 C1180.2,712.4 1182.1,714.9 1185.0,717.5 C1187.9,720.1 1192.1,725.0 1195.0,727.5 C1197.9,730.0 1200.7,730.4 1202.5,732.5 C1204.3,734.6 1204.8,735.8 1206.0,740.0 C1207.2,744.2 1208.1,752.9 1210.0,757.5 C1211.9,762.1 1215.0,763.8 1217.5,767.5 C1220.0,771.2 1222.9,775.0 1225.0,780.0 C1227.1,785.0 1228.3,793.5 1230.0,797.5 C1231.7,801.5 1232.9,802.9 1235.0,804.0 C1237.1,805.1 1240.0,803.2 1242.5,804.0 C1245.0,804.8 1247.8,806.5 1250.0,809.0 C1252.2,811.5 1253.9,817.0 1256.0,819.0 C1258.1,821.0 1260.3,820.1 1262.5,821.0 C1264.7,821.9 1266.9,824.8 1269.0,824.5 C1271.1,824.2 1272.3,820.6 1275.0,819.0 C1277.7,817.4 1281.2,815.8 1285.0,815.0 C1288.8,814.2 1293.3,814.0 1297.5,814.0 C1301.7,814.0 1305.8,814.8 1310.0,815.0 C1314.2,815.2 1318.5,815.7 1322.5,815.0 C1326.5,814.3 1330.1,811.8 1334.0,811.0 C1337.9,810.2 1344.0,810.6 1346.0,810.5" fill="none" stroke="#8492a6" stroke-width="1"/>
<path d="M7.0,815.0 C10.0,815.3 18.7,816.1 25.0,817.0 C31.3,817.9 39.6,819.7 45.0,820.5 C50.4,821.3 54.2,821.9 57.5,822.0 C60.8,822.1 62.1,822.2 65.0,821.0 C67.9,819.8 70.8,817.7 75.0,815.0 C79.2,812.3 84.6,808.5 90.0,805.0 C95.4,801.5 101.7,797.5 107.5,794.0 C113.3,790.5 119.6,786.3 125.0,784.0 C130.4,781.7 135.0,781.6 140.0,780.0 C145.0,778.4 150.0,776.8 155.0,774.5 C160.0,772.2 165.4,768.6 170.0,766.0 C174.6,763.4 178.3,760.7 182.5,759.0 C186.7,757.3 191.2,756.5 195.0,756.0 C198.8,755.5 202.1,755.4 205.0,756.0 C207.9,756.6 209.2,757.0 212.5,759.5 C215.8,762.0 220.8,767.4 225.0,771.0 C229.2,774.6 233.3,778.2 237.5,781.0 C241.7,783.8 245.8,785.8 250.0,787.5 C254.2,789.2 258.3,790.1 262.5,791.0 C266.7,791.9 270.4,792.7 275.0,793.0 C279.6,793.3 285.8,792.7 290.0,793.0 C294.2,793.3 295.8,793.8 300.0,795.0 C304.2,796.2 310.0,798.7 315.0,800.5 C320.0,802.3 325.0,804.8 330.0,806.0 C335.0,807.2 339.6,807.5 345.0,807.5 C350.4,807.5 355.8,806.6 362.5,806.0 C369.2,805.4 378.3,804.7 385.0,804.0 C391.7,803.3 397.5,802.2 402.5,802.0 C407.5,801.8 410.4,802.3 415.0,802.5 C419.6,802.7 425.0,803.1 430.0,803.0 C435.0,802.9 440.0,802.5 445.0,802.0 C450.0,801.5 455.8,800.3 460.0,800.0 C464.2,799.7 466.2,800.3 470.0,800.0 C473.8,799.7 478.3,798.4 482.5,798.0 C486.7,797.6 490.8,797.5 495.0,797.5 C499.2,797.5 503.3,798.5 507.5,798.0 C511.7,797.5 515.8,796.8 520.0,794.5 C524.2,792.2 527.9,788.5 532.5,784.0 C537.1,779.5 542.5,772.8 547.5,767.5 C552.5,762.2 557.9,756.6 562.5,752.5 C567.1,748.4 571.2,745.0 575.0,743.0 C578.8,741.0 582.1,740.6 585.0,740.5 C587.9,740.4 589.2,741.3 592.5,742.5 C595.8,743.7 600.4,746.8 605.0,747.5 C609.6,748.2 615.8,747.2 620.0,747.0 C624.2,746.8 626.7,745.7 630.0,746.0 C633.3,746.3 636.7,748.5 640.0,749.0 C643.3,749.5 646.7,749.5 650.0,749.0 C653.3,748.5 656.2,747.5 660.0,746.0 C663.8,744.5 668.3,742.2 672.5,740.0 C676.7,737.8 680.8,735.0 685.0,733.0 C689.2,731.0 694.2,729.0 697.5,728.0 C700.8,727.0 702.5,726.7 705.0,727.0 C707.5,727.3 709.6,728.0 712.5,730.0 C715.4,732.0 719.2,735.8 722.5,739.0 C725.8,742.2 729.2,745.1 732.5,749.0 C735.8,752.9 739.2,757.8 742.5,762.5 C745.8,767.2 749.2,772.8 752.5,777.5 C755.8,782.2 759.6,787.7 762.5,791.0 C765.4,794.3 767.5,795.8 770.0,797.5 C772.5,799.2 773.8,800.2 777.5,801.0 C781.2,801.8 787.5,802.2 792.5,802.5 C797.5,802.8 802.5,803.2 807.5,803.0 C812.5,802.8 817.1,802.5 822.5,801.0 C827.9,799.5 833.8,796.7 840.0,794.0 C846.2,791.3 854.2,786.8 860.0,785.0 C865.8,783.2 869.6,783.5 875.0,783.0 C880.4,782.5 887.5,782.0 892.5,782.0 C897.5,782.0 900.4,782.0 905.0,783.0 C909.6,784.0 915.0,786.3 920.0,788.0 C925.0,789.7 931.7,792.0 935.0,793.0 C938.3,794.0 936.7,793.3 940.0,794.0 C943.3,794.7 950.0,795.6 955.0,797.0 C960.0,798.4 965.0,800.8 970.0,802.5 C975.0,804.2 980.0,806.4 985.0,807.5 C990.0,808.6 995.0,808.2 1000.0,809.0 C1005.0,809.8 1010.4,811.8 1015.0,812.0 C1019.6,812.2 1023.3,811.3 1027.5,810.0 C1031.7,808.7 1035.4,806.3 1040.0,804.0 C1044.6,801.7 1050.0,798.5 1055.0,796.0 C1060.0,793.5 1064.6,792.1 1070.0,789.0 C1075.4,785.9 1082.1,781.1 1087.5,777.5 C1092.9,773.9 1097.9,770.1 1102.5,767.5 C1107.1,764.9 1111.2,763.2 1115.0,762.0 C1118.8,760.8 1121.7,760.2 1125.0,760.0 C1128.3,759.8 1131.7,760.0 1135.0,760.5 C1138.3,761.0 1142.1,762.4 1145.0,763.0 C1147.9,763.6 1149.6,764.1 1152.5,764.0 C1155.4,763.9 1159.2,763.3 1162.5,762.5 C1165.8,761.7 1169.2,760.4 1172.5,759.0 C1175.8,757.6 1179.2,756.3 1182.5,754.0 C1185.8,751.7 1189.2,748.0 1192.5,745.0 C1195.8,742.0 1199.6,738.2 1202.5,736.0 C1205.4,733.8 1207.9,732.9 1210.0,732.0 C1212.1,731.1 1212.9,730.4 1215.0,730.5 C1217.1,730.6 1220.0,730.9 1222.5,732.5 C1225.0,734.1 1227.1,736.4 1230.0,740.0 C1232.9,743.6 1236.2,748.8 1240.0,754.0 C1243.8,759.2 1248.3,765.4 1252.5,771.0 C1256.7,776.6 1261.2,782.5 1265.0,787.5 C1268.8,792.5 1271.7,797.2 1275.0,801.0 C1278.3,804.8 1281.7,807.8 1285.0,810.0 C1288.3,812.2 1291.2,813.0 1295.0,814.0 C1298.8,815.0 1303.3,815.4 1307.5,816.0 C1311.7,816.6 1315.8,817.5 1320.0,817.5 C1324.2,817.5 1328.2,816.6 1332.5,816.0 C1336.8,815.4 1343.8,814.3 1346.0,814.0" fill="none" stroke="#ff0000" stroke-width="1"/>
<path d="M7.0,817.0 C8.3,817.6 12.0,819.5 15.0,820.5 C18.0,821.5 21.2,822.6 25.0,823.0 C28.8,823.4 33.3,823.3 37.5,823.0 C41.7,822.7 45.6,821.7 50.0,821.0 C54.4,820.3 60.2,820.8 64.0,819.0 C67.8,817.2 69.0,814.0 72.5,810.0 C76.0,806.0 80.6,799.8 85.0,795.0 C89.4,790.2 95.7,783.5 99.0,781.0 C102.3,778.5 101.9,780.0 105.0,780.0 C108.1,780.0 113.3,780.6 117.5,781.0 C121.7,781.4 126.7,782.3 130.0,782.5 C133.3,782.7 134.6,783.1 137.5,782.0 C140.4,780.9 143.8,779.0 147.5,776.0 C151.2,773.0 155.8,768.5 160.0,764.0 C164.2,759.5 169.3,752.2 172.5,749.0 C175.7,745.8 176.9,745.7 179.0,745.0 C181.1,744.3 182.8,744.3 185.0,745.0 C187.2,745.7 190.0,747.2 192.5,749.0 C195.0,750.8 197.1,752.5 200.0,756.0 C202.9,759.5 206.7,765.0 210.0,770.0 C213.3,775.0 216.7,781.7 220.0,786.0 C223.3,790.3 227.1,793.8 230.0,796.0 C232.9,798.2 235.0,798.8 237.5,799.0 C240.0,799.2 242.5,798.8 245.0,797.5 C247.5,796.2 250.0,792.8 252.5,791.0 C255.0,789.2 257.5,787.8 260.0,787.0 C262.5,786.2 264.6,785.5 267.5,786.0 C270.4,786.5 274.2,788.1 277.5,790.0 C280.8,791.9 283.8,795.2 287.5,797.5 C291.2,799.8 295.8,802.3 300.0,804.0 C304.2,805.7 307.1,806.8 312.5,807.5 C317.9,808.2 326.2,808.1 332.5,808.0 C338.8,807.9 343.8,807.7 350.0,807.0 C356.2,806.3 363.8,805.1 370.0,804.0 C376.2,802.9 382.1,801.2 387.5,800.5 C392.9,799.8 398.3,799.6 402.5,800.0 C406.7,800.4 409.2,801.8 412.5,803.0 C415.8,804.2 419.2,806.3 422.5,807.0 C425.8,807.7 429.2,807.7 432.5,807.0 C435.8,806.3 439.2,804.8 442.5,803.0 C445.8,801.2 449.4,797.7 452.5,796.0 C455.6,794.3 458.1,793.3 461.0,793.0 C463.9,792.7 466.8,792.9 470.0,794.0 C473.2,795.1 476.7,798.0 480.0,799.5 C483.3,801.0 486.2,802.5 490.0,803.0 C493.8,803.5 498.8,803.4 502.5,802.5 C506.2,801.6 509.6,799.8 512.5,797.5 C515.4,795.2 517.1,793.6 520.0,789.0 C522.9,784.4 526.7,776.1 530.0,770.0 C533.3,763.9 536.7,757.5 540.0,752.5 C543.3,747.5 547.1,742.8 550.0,740.0 C552.9,737.2 554.6,736.0 557.5,735.5 C560.4,735.0 564.2,736.3 567.5,737.0 C570.8,737.7 574.2,738.2 577.5,739.5 C580.8,740.8 584.2,742.9 587.5,745.0 C590.8,747.1 594.4,750.2 597.5,752.0 C600.6,753.8 603.1,755.7 606.0,755.5 C608.9,755.3 611.8,752.8 615.0,751.0 C618.2,749.2 621.7,746.7 625.0,745.0 C628.3,743.3 632.1,741.4 635.0,741.0 C637.9,740.6 640.0,741.5 642.5,742.5 C645.0,743.5 647.5,746.1 650.0,747.0 C652.5,747.9 655.0,748.2 657.5,748.0 C660.0,747.8 662.5,747.0 665.0,745.5 C667.5,744.0 669.6,742.4 672.5,739.0 C675.4,735.6 679.6,729.0 682.5,725.0 C685.4,721.0 687.5,717.4 690.0,715.0 C692.5,712.6 695.4,710.9 697.5,710.5 C699.6,710.1 700.8,710.9 702.5,712.5 C704.2,714.1 705.8,716.4 707.5,720.0 C709.2,723.6 710.8,728.6 712.5,734.0 C714.2,739.4 715.4,745.7 717.5,752.5 C719.6,759.3 722.5,768.8 725.0,775.0 C727.5,781.2 730.0,786.0 732.5,790.0 C735.0,794.0 737.1,797.2 740.0,799.0 C742.9,800.8 745.0,800.5 750.0,801.0 C755.0,801.5 765.0,802.0 770.0,802.0 C775.0,802.0 775.8,800.9 780.0,801.0 C784.2,801.1 790.0,802.2 795.0,802.5 C800.0,802.8 805.8,803.0 810.0,802.5 C814.2,802.0 816.2,801.6 820.0,799.5 C823.8,797.4 828.3,793.1 832.5,790.0 C836.7,786.9 840.6,783.5 845.0,781.0 C849.4,778.5 855.2,775.3 859.0,775.0 C862.8,774.7 864.0,777.2 867.5,779.0 C871.0,780.8 876.1,784.3 880.0,786.0 C883.9,787.7 887.7,788.8 891.0,789.0 C894.3,789.2 897.0,787.5 900.0,787.0 C903.0,786.5 905.7,785.5 909.0,786.0 C912.3,786.5 916.5,788.2 920.0,790.0 C923.5,791.8 926.7,794.8 930.0,797.0 C933.3,799.2 936.7,801.8 940.0,803.0 C943.3,804.2 945.8,804.1 950.0,804.0 C954.2,803.9 960.4,802.2 965.0,802.5 C969.6,802.8 973.3,804.6 977.5,806.0 C981.7,807.4 985.4,809.4 990.0,811.0 C994.6,812.6 1001.0,815.0 1005.0,815.5 C1009.0,816.0 1010.7,815.6 1014.0,814.0 C1017.3,812.4 1021.1,809.3 1025.0,806.0 C1028.9,802.7 1033.8,797.5 1037.5,794.0 C1041.2,790.5 1044.2,786.9 1047.5,785.0 C1050.8,783.1 1053.8,783.0 1057.5,782.5 C1061.2,782.0 1066.2,782.6 1070.0,782.0 C1073.8,781.4 1076.2,781.2 1080.0,779.0 C1083.8,776.8 1088.8,772.8 1092.5,769.0 C1096.2,765.2 1099.6,759.3 1102.5,756.0 C1105.4,752.7 1107.8,750.7 1110.0,749.0 C1112.2,747.3 1113.9,745.9 1116.0,746.0 C1118.1,746.1 1120.2,747.2 1122.5,749.5 C1124.8,751.8 1127.5,756.4 1130.0,760.0 C1132.5,763.6 1135.0,767.8 1137.5,771.0 C1140.0,774.2 1142.9,777.3 1145.0,779.0 C1147.1,780.7 1148.3,781.0 1150.0,781.0 C1151.7,781.0 1153.2,781.2 1155.0,779.0 C1156.8,776.8 1158.9,771.9 1161.0,767.5 C1163.1,763.1 1165.2,757.8 1167.5,752.5 C1169.8,747.2 1172.5,740.6 1175.0,736.0 C1177.5,731.4 1180.0,727.8 1182.5,725.0 C1185.0,722.2 1187.9,720.2 1190.0,719.0 C1192.1,717.8 1192.9,717.3 1195.0,717.5 C1197.1,717.7 1200.0,718.6 1202.5,720.0 C1205.0,721.4 1207.5,722.8 1210.0,726.0 C1212.5,729.2 1215.0,734.8 1217.5,739.0 C1220.0,743.2 1222.5,746.2 1225.0,751.0 C1227.5,755.8 1230.0,762.2 1232.5,767.5 C1235.0,772.8 1237.1,777.5 1240.0,782.5 C1242.9,787.5 1246.7,793.3 1250.0,797.5 C1253.3,801.7 1256.7,804.7 1260.0,807.5 C1263.3,810.3 1266.7,812.6 1270.0,814.5 C1273.3,816.4 1277.3,818.2 1280.0,819.0 C1282.7,819.8 1283.5,819.8 1286.0,819.5 C1288.5,819.2 1291.4,818.2 1295.0,817.5 C1298.6,816.8 1303.3,815.4 1307.5,815.0 C1311.7,814.6 1315.8,815.1 1320.0,815.0 C1324.2,814.9 1328.2,814.9 1332.5,814.5 C1336.8,814.1 1343.8,812.8 1346.0,812.5" fill="none" stroke="#008000" stroke-width="2.2" stroke-linejoin="round"/>
<rect x="1227" y="794" width="139" height="37" fill="none" stroke="#1414ff" stroke-width="1.4"/>
<g shape-rendering="crispEdges">
<rect x="6" y="25" width="1" height="867" fill="#c6c6c6"/>
<rect x="1746" y="25" width="1" height="827" fill="#c6c6c6"/>
<rect x="1871" y="25" width="1" height="867" fill="#c6c6c6"/>
<rect x="6" y="648" width="1866" height="1" fill="#c6c6c6"/>
<rect x="6" y="851" width="1866" height="1" fill="#c6c6c6"/>
<rect x="6" y="891" width="1866" height="1" fill="#c6c6c6"/>
<rect x="20" y="852" width="1" height="39" fill="#c6c6c6"/>
<rect x="449" y="852" width="1" height="39" fill="#c6c6c6"/>
<rect x="877" y="852" width="1" height="39" fill="#c6c6c6"/>
<rect x="1306" y="852" width="1" height="39" fill="#c6c6c6"/>
<rect x="1735" y="852" width="1" height="39" fill="#c6c6c6"/>
</g>
<text x="5.0" y="14.3" font-family='"Liberation Sans", sans-serif' font-size="12" fill="#333" text-anchor="start" font-weight="normal"  textLength="239.5" lengthAdjust="spacingAndGlyphs">U.S. Dollar Index - DXSpot:USF - Weekly - USD</text>
<text x="906.7" y="909.0" font-family='"Liberation Sans", sans-serif' font-size="12.2" fill="#3a3a3a" text-anchor="start" font-weight="normal"  textLength="68.8" lengthAdjust="spacingAndGlyphs">3rd Mar 2026</text>
<text x="22.2" y="881.0" font-family='"Liberation Sans", sans-serif' font-size="29.8" fill="#222222" text-anchor="start" font-weight="normal"  textLength="68.5" lengthAdjust="spacingAndGlyphs">2020</text>
<text x="451.2" y="881.0" font-family='"Liberation Sans", sans-serif' font-size="29.8" fill="#222222" text-anchor="start" font-weight="normal"  textLength="68.5" lengthAdjust="spacingAndGlyphs">2022</text>
<text x="879.2" y="881.0" font-family='"Liberation Sans", sans-serif' font-size="29.8" fill="#222222" text-anchor="start" font-weight="normal"  textLength="68.5" lengthAdjust="spacingAndGlyphs">2024</text>
<text x="1308.2" y="881.0" font-family='"Liberation Sans", sans-serif' font-size="29.8" fill="#222222" text-anchor="start" font-weight="normal"  textLength="68.5" lengthAdjust="spacingAndGlyphs">2026</text>
<g clip-path="url(#dateclip)"><text x="1737.2" y="881.0" font-family='"Liberation Sans", sans-serif' font-size="29.8" fill="#222222" text-anchor="start" font-weight="normal"  textLength="68.5" lengthAdjust="spacingAndGlyphs">2028</text></g>
<g clip-path="url(#axclip)">
<rect x="1747" y="22" width="7" height="1" fill="#444" shape-rendering="crispEdges"/>
<text id="ft1" x="1755.5" y="32.6" font-family='"Liberation Sans", sans-serif' font-size="29.8" fill="#222222" text-anchor="start" font-weight="normal"  textLength="110.0" lengthAdjust="spacingAndGlyphs">115.000</text><rect x="1757.27" y="29.42" width="6.03" height="4.03" fill="#ffffff"/><rect x="1766.08" y="29.42" width="5.79" height="4.03" fill="#ffffff"/><rect x="1772.24" y="29.42" width="6.03" height="4.03" fill="#ffffff"/><rect x="1781.05" y="29.42" width="5.79" height="4.03" fill="#ffffff"/>
<rect x="1747" y="55" width="7" height="1" fill="#444" shape-rendering="crispEdges"/>
<text id="ft2" x="1755.5" y="65.1" font-family='"Liberation Sans", sans-serif' font-size="29.8" fill="#222222" text-anchor="start" font-weight="normal"  textLength="110.0" lengthAdjust="spacingAndGlyphs">114.000</text><rect x="1757.27" y="61.92" width="6.03" height="4.03" fill="#ffffff"/><rect x="1766.08" y="61.92" width="5.79" height="4.03" fill="#ffffff"/><rect x="1772.24" y="61.92" width="6.03" height="4.03" fill="#ffffff"/><rect x="1781.05" y="61.92" width="5.79" height="4.03" fill="#ffffff"/>
<rect x="1747" y="95" width="7" height="1" fill="#444" shape-rendering="crispEdges"/>
<text id="ft3" x="1755.5" y="105.1" font-family='"Liberation Sans", sans-serif' font-size="29.8" fill="#222222" text-anchor="start" font-weight="normal"  textLength="110.0" lengthAdjust="spacingAndGlyphs">112.000</text><rect x="1757.27" y="101.92" width="6.03" height="4.03" fill="#ffffff"/><rect x="1766.08" y="101.92" width="5.79" height="4.03" fill="#ffffff"/><rect x="1772.24" y="101.92" width="6.03" height="4.03" fill="#ffffff"/><rect x="1781.05" y="101.92" width="5.79" height="4.03" fill="#ffffff"/>
<rect x="1747" y="136" width="7" height="1" fill="#444" shape-rendering="crispEdges"/>
<text id="ft4" x="1755.5" y="146.1" font-family='"Liberation Sans", sans-serif' font-size="29.8" fill="#222222" text-anchor="start" font-weight="normal"  textLength="110.0" lengthAdjust="spacingAndGlyphs">110.000</text><rect x="1757.27" y="142.92" width="6.03" height="4.03" fill="#ffffff"/><rect x="1766.09" y="142.92" width="5.79" height="4.03" fill="#ffffff"/><rect x="1772.24" y="142.92" width="6.03" height="4.03" fill="#ffffff"/><rect x="1781.06" y="142.92" width="5.79" height="4.03" fill="#ffffff"/>
<rect x="1747" y="178" width="7" height="1" fill="#444" shape-rendering="crispEdges"/>
<text id="ft5" x="1755.5" y="188.1" font-family='"Liberation Sans", sans-serif' font-size="29.8" fill="#222222" text-anchor="start" font-weight="normal"  textLength="110.0" lengthAdjust="spacingAndGlyphs">108.000</text><rect x="1757.22" y="184.92" width="5.92" height="4.03" fill="#ffffff"/><rect x="1765.87" y="184.92" width="5.68" height="4.03" fill="#ffffff"/>
<rect x="1747" y="220" width="7" height="1" fill="#444" shape-rendering="crispEdges"/>
<text id="ft6" x="1755.5" y="230.1" font-family='"Liberation Sans", sans-serif' font-size="29.8" fill="#222222" text-anchor="start" font-weight="normal"  textLength="110.0" lengthAdjust="spacingAndGlyphs">106.000</text><rect x="1757.22" y="226.92" width="5.92" height="4.03" fill="#ffffff"/><rect x="1765.87" y="226.92" width="5.68" height="4.03" fill="#ffffff"/>
<rect x="1747" y="264" width="7" height="1" fill="#444" shape-rendering="crispEdges"/>
<text id="ft7" x="1755.5" y="274.1" font-family='"Liberation Sans", sans-serif' font-size="29.8" fill="#222222" text-anchor="start" font-weight="normal"  textLength="110.0" lengthAdjust="spacingAndGlyphs">104.000</text><rect x="1757.22" y="270.92" width="5.92" height="4.03" fill="#ffffff"/><rect x="1765.87" y="270.92" width="5.68" height="4.03" fill="#ffffff"/>
<rect x="1747" y="446" width="7" height="1" fill="#444" shape-rendering="crispEdges"/>
<text x="1755.5" y="456.1" font-family='"Liberation Sans", sans-serif' font-size="29.8" fill="#222222" text-anchor="start" font-weight="normal"  textLength="93.2" lengthAdjust="spacingAndGlyphs">96.000</text>
<rect x="1747" y="493" width="7" height="1" fill="#444" shape-rendering="crispEdges"/>
<text x="1755.5" y="503.1" font-family='"Liberation Sans", sans-serif' font-size="29.8" fill="#222222" text-anchor="start" font-weight="normal"  textLength="93.2" lengthAdjust="spacingAndGlyphs">94.000</text>
<rect x="1747" y="542" width="7" height="1" fill="#444" shape-rendering="crispEdges"/>
<text x="1755.5" y="552.1" font-family='"Liberation Sans", sans-serif' font-size="29.8" fill="#222222" text-anchor="start" font-weight="normal"  textLength="93.2" lengthAdjust="spacingAndGlyphs">92.000</text>
<rect x="1747" y="592" width="7" height="1" fill="#444" shape-rendering="crispEdges"/>
<text x="1755.5" y="602.1" font-family='"Liberation Sans", sans-serif' font-size="29.8" fill="#222222" text-anchor="start" font-weight="normal"  textLength="93.2" lengthAdjust="spacingAndGlyphs">90.000</text>
<rect x="1747" y="643" width="7" height="1" fill="#444" shape-rendering="crispEdges"/>
<text x="1755.5" y="653.1" font-family='"Liberation Sans", sans-serif' font-size="29.8" fill="#222222" text-anchor="start" font-weight="normal"  textLength="93.2" lengthAdjust="spacingAndGlyphs">88.000</text>
</g>
<rect x="1747" y="695" width="4" height="1" fill="#444" shape-rendering="crispEdges"/>
<text id="ft8" x="1755.2" y="705.4" font-family='"Liberation Sans", sans-serif' font-size="29.8" fill="#222222" text-anchor="start" font-weight="normal"  textLength="75.6" lengthAdjust="spacingAndGlyphs">0.160</text><rect x="1782.09" y="702.22" width="5.88" height="4.03" fill="#ffffff"/><rect x="1790.67" y="702.22" width="5.64" height="4.03" fill="#ffffff"/>
<rect x="1747" y="732" width="4" height="1" fill="#444" shape-rendering="crispEdges"/>
<text id="ft9" x="1755.2" y="742.9" font-family='"Liberation Sans", sans-serif' font-size="29.8" fill="#222222" text-anchor="start" font-weight="normal"  textLength="75.6" lengthAdjust="spacingAndGlyphs">0.120</text><rect x="1782.09" y="739.72" width="5.88" height="4.03" fill="#ffffff"/><rect x="1790.67" y="739.72" width="5.64" height="4.03" fill="#ffffff"/>
<line x1="1746.5" y1="347" x2="1752.5" y2="308.5" stroke="#222" stroke-width="1"/>
<rect x="1747" y="308" width="6" height="1" fill="#333" shape-rendering="crispEdges"/>
<rect x="1747" y="347" width="6" height="1" fill="#333" shape-rendering="crispEdges"/>
<rect x="1747" y="353" width="6" height="1" fill="#333" shape-rendering="crispEdges"/>
<rect x="1747" y="390" width="6" height="1" fill="#008000" shape-rendering="crispEdges"/>
<rect x="1747" y="398" width="6" height="1" fill="#333" shape-rendering="crispEdges"/>
<rect x="1752.5" y="286" width="118.5" height="39.5" fill="#000"/>
<text id="ft10" x="1757.5" y="316.3" font-family='"Liberation Sans", sans-serif' font-size="29.8" fill="#fff" text-anchor="start" font-weight="normal"  textLength="110.0" lengthAdjust="spacingAndGlyphs">100.305</text><rect x="1759.22" y="313.12" width="5.92" height="4.03" fill="#000000"/><rect x="1767.87" y="313.12" width="5.68" height="4.03" fill="#000000"/>
<rect x="1752.5" y="327" width="118.5" height="39.8" fill="#000"/>
<text id="ft11" x="1757.5" y="357.5" font-family='"Liberation Sans", sans-serif' font-size="29.8" fill="#fff" text-anchor="start" font-weight="normal"  textLength="110.0" lengthAdjust="spacingAndGlyphs">100.245</text><rect x="1759.22" y="354.32" width="5.92" height="4.03" fill="#000000"/><rect x="1767.87" y="354.32" width="5.68" height="4.03" fill="#000000"/>
<rect x="1752.5" y="371" width="101.8" height="39.5" fill="#008000"/>
<text x="1757.0" y="401.3" font-family='"Liberation Sans", sans-serif' font-size="29.8" fill="#fff" text-anchor="start" font-weight="normal"  textLength="93.5" lengthAdjust="spacingAndGlyphs">98.337</text>
<line x1="1746.5" y1="809" x2="1753" y2="773" stroke="#778899" stroke-width="1"/>
<line x1="1746.5" y1="814" x2="1753" y2="851" stroke="#ff0000" stroke-width="1"/>
<rect x="1747" y="771" width="5" height="1" fill="#333" shape-rendering="crispEdges"/>
<rect x="1747" y="808" width="5" height="1" fill="#333" shape-rendering="crispEdges"/>
<rect x="1747" y="813" width="6" height="1" fill="#008000" shape-rendering="crispEdges"/>
<rect x="1747" y="847" width="5" height="1" fill="#333" shape-rendering="crispEdges"/>
<rect x="1753" y="752.2" width="85" height="40" fill="#778899"/>
<text x="1757.2" y="782.3" font-family='"Liberation Sans", sans-serif' font-size="29.8" fill="#000" text-anchor="start" font-weight="normal"  textLength="75.8" lengthAdjust="spacingAndGlyphs">0.038</text>
<rect x="1753" y="793" width="85" height="19.3" fill="#008000"/>
<clipPath id="gclip"><rect x="1753" y="793" width="85" height="19.3"/></clipPath>
<g clip-path="url(#gclip)"><text x="1757.2" y="822.2" font-family='"Liberation Sans", sans-serif' font-size="29.8" fill="#fff" text-anchor="start" font-weight="normal"  textLength="75.8" lengthAdjust="spacingAndGlyphs">0.036</text></g>
<rect x="1753" y="812.3" width="85" height="38.5" fill="#ff0000"/>
<text x="1757.2" y="842.4" font-family='"Liberation Sans", sans-serif' font-size="29.8" fill="#fff" text-anchor="start" font-weight="normal"  textLength="75.8" lengthAdjust="spacingAndGlyphs">0.035</text>
<text x="12.0" y="665.3" font-family='"Liberation Sans", sans-serif' font-size="12.1" fill="#778899" text-anchor="start" font-weight="normal"  textLength="105.3" lengthAdjust="spacingAndGlyphs">Bollinger Bandwidth</text>
<text x="120.9" y="665.3" font-family='"Liberation Sans", sans-serif' font-size="12.1" fill="#ff0000" text-anchor="start" font-weight="normal"  textLength="183.8" lengthAdjust="spacingAndGlyphs">&amp; 16 Period Simple Moving Average</text>
<text x="308.1" y="665.3" font-family='"Liberation Sans", sans-serif' font-size="12.1" fill="#008000" text-anchor="start" font-weight="normal"  textLength="178.2" lengthAdjust="spacingAndGlyphs">&amp; 8 Period Simple Moving Average</text>
<text x="760.0" y="525.8" font-family='"Liberation Sans", sans-serif' font-size="44" fill="#000" text-anchor="start" font-weight="normal"  textLength="323.5" lengthAdjust="spacingAndGlyphs">US Dollar Index</text>
<text x="881.5" y="588.9" font-family='"Liberation Sans", sans-serif' font-size="43.5" fill="#000" text-anchor="start" font-weight="normal"  textLength="83" lengthAdjust="spacingAndGlyphs">DXY</text>
<text x="780.5" y="730.3" font-family='"Liberation Sans", sans-serif' font-size="25.2" fill="#000" text-anchor="start" font-weight="normal"  textLength="286" lengthAdjust="spacingAndGlyphs">Weekly Strazza Indicator</text>
<text x="86.2" y="127.7" font-family='"Liberation Sans", sans-serif' font-size="25.2" fill="#0f2c52" text-anchor="start" font-weight="bold" stroke="#0f2c52" stroke-width="0.7" textLength="154.2" lengthAdjust="spacing">ALL STAR</text>
<text x="97.6" y="153.7" font-family='"Liberation Sans", sans-serif' font-size="25.6" fill="#0f2c52" text-anchor="start" font-weight="bold" stroke="#0f2c52" stroke-width="0.7" textLength="131.5" lengthAdjust="spacing">CHARTS</text>
<polygon points="182.31,92.43 187.05,94.25 190.57,90.60 190.31,95.67 194.87,97.89 189.96,99.20 189.26,104.23 186.49,99.97 181.50,100.85 184.69,96.91" fill="#e8173b"/>
<polygon points="198.87,79.01 202.54,82.52 207.20,80.52 205.00,85.09 208.34,88.91 203.31,88.22 200.72,92.59 199.82,87.59 194.87,86.47 199.34,84.07" fill="#e8173b"/>
<polygon points="219.05,73.11 221.12,77.75 226.19,77.65 222.43,81.05 224.09,85.85 219.69,83.32 215.64,86.38 216.69,81.41 212.53,78.51 217.57,77.97" fill="#e8173b"/>
<polygon points="240.81,76.41 240.89,81.49 245.60,83.39 240.80,85.04 240.44,90.10 237.39,86.05 232.46,87.27 235.38,83.12 232.69,78.81 237.54,80.30" fill="#e8173b"/>
<polygon points="259.00,87.13 257.16,91.86 260.79,95.40 255.72,95.11 253.48,99.66 252.19,94.76 247.16,94.03 251.43,91.28 250.57,86.28 254.50,89.49" fill="#e8173b"/>
<polygon points="272.06,103.62 268.58,107.32 270.62,111.96 266.03,109.79 262.24,113.17 262.89,108.13 258.51,105.57 263.49,104.63 264.57,99.67 267.01,104.13" fill="#e8173b"/>
<polygon points="278.28,124.21 273.66,126.31 273.78,131.38 270.36,127.63 265.58,129.32 268.08,124.90 265.00,120.87 269.97,121.89 272.86,117.72 273.42,122.76" fill="#e8173b"/>
<polygon points="276.42,143.37 271.37,143.78 269.76,148.60 267.81,143.91 262.74,143.87 266.59,140.57 265.06,135.73 269.39,138.38 273.52,135.42 272.34,140.36" fill="#e8173b"/>
<polygon points="268.29,153.92 265.58,153.49 264.12,155.82 263.69,153.11 261.02,152.44 263.47,151.19 263.28,148.45 265.23,150.39 267.78,149.37 266.53,151.81" fill="#e8173b"/>
<polygon points="262.14,161.73 259.76,160.87 258.03,162.73 258.11,160.19 255.81,159.12 258.25,158.42 258.55,155.90 259.98,158.00 262.47,157.51 260.91,159.52" fill="#e8173b"/>
<polygon points="254.62,168.26 252.56,167.03 250.63,168.44 251.16,166.10 249.22,164.70 251.61,164.48 252.35,162.20 253.29,164.41 255.68,164.40 253.88,165.98" fill="#e8173b"/>
<polygon points="245.96,173.65 244.29,172.13 242.25,173.07 243.17,171.01 241.64,169.36 243.89,169.60 244.99,167.64 245.45,169.85 247.66,170.29 245.70,171.41" fill="#e8173b"/>
<polygon points="236.65,177.38 235.35,175.62 233.23,176.13 234.50,174.35 233.36,172.49 235.44,173.15 236.86,171.49 236.88,173.67 238.90,174.51 236.83,175.20" fill="#e8173b"/>
<polygon points="226.96,178.79 226.05,176.88 223.94,176.97 225.47,175.52 224.73,173.54 226.59,174.54 228.24,173.23 227.86,175.31 229.62,176.47 227.53,176.75" fill="#e8173b"/>
<polygon points="216.88,178.28 216.38,176.30 214.36,175.98 216.09,174.90 215.77,172.88 217.34,174.19 219.15,173.26 218.39,175.15 219.84,176.60 217.80,176.46" fill="#e8173b"/>
<polygon points="207.28,175.97 207.19,174.07 205.40,173.42 207.18,172.74 207.25,170.84 208.44,172.32 210.27,171.80 209.23,173.39 210.30,174.97 208.46,174.48" fill="#e8173b"/>
<polygon points="199.66,172.85 199.84,171.24 198.43,170.44 200.02,170.12 200.34,168.53 201.14,169.94 202.75,169.76 201.65,170.95 202.33,172.43 200.85,171.75" fill="#e8173b"/>
<polygon points="194.74,169.48 195.05,168.18 193.97,167.38 195.31,167.27 195.73,166.00 196.24,167.24 197.58,167.24 196.57,168.12 196.98,169.39 195.83,168.70" fill="#e8173b"/>
<polygon points="189.95,165.71 190.35,164.65 189.52,163.88 190.65,163.93 191.13,162.91 191.44,163.99 192.56,164.13 191.62,164.76 191.83,165.87 190.94,165.17" fill="#e8173b"/>
<polygon points="185.73,160.97 186.16,160.16 185.58,159.45 186.48,159.60 186.97,158.83 187.11,159.74 187.99,159.97 187.17,160.37 187.23,161.29 186.59,160.63" fill="#e8173b"/>
<path d="M1792.2,4 H1808.8 Q1811,4 1811,6.2 V24.8 H1792.2 Q1790,24.8 1790,22.6 V6.2 Q1790,4 1792.2,4 Z" fill="#0b3f7d"/>
<clipPath id="optclip"><rect x="1790" y="4" width="21" height="20.8"/></clipPath>
<g clip-path="url(#optclip)">
<circle cx="1803.3" cy="16.9" r="8.7" fill="#fff"/>
<circle cx="1804.9" cy="18.0" r="6.6" fill="#0b3f7d"/>
<path d="M1798.4,15.6 Q1799.0,12.2 1802.0,11.9 Q1804.0,12.9 1803.4,14.5 Q1802.4,13.4 1800.9,13.9 Q1799.4,14.5 1798.4,15.6 Z" fill="#fff"/>
<rect x="1808.3" y="9.7" width="3" height="6" fill="#0b3f7d"/>
</g>
<text x="1812.8" y="21.0" font-family='"Liberation Sans", sans-serif' font-size="17.9" fill="#0b3f7d" text-anchor="start" font-weight="bold"  textLength="57.6" lengthAdjust="spacingAndGlyphs">Optuma</text>
<path d="M1870.1,10.5 h2.6 M1871.4,9.2 v2.6" stroke="#0b3f7d" stroke-width="1" fill="none"/>
<rect x="1844" y="25" width="26.5" height="26.2" rx="1.6" fill="#fcfcfc" stroke="#d2d2d2" stroke-width="1"/><path d="M1852.05,37.0 v-3.6 a5.2,5.2 0 0 1 10.4,0 v3.6" fill="none" stroke="#6c6c6c" stroke-width="2.8"/><rect x="1848.35" y="36.4" width="17.8" height="10.7" rx="1.5" fill="#6c6c6c"/><circle cx="1857.25" cy="40.4" r="1.3" fill="#fff"/><path d="M1856.55,40.8 h1.4 l0.9,3.5 h-3.2 z" fill="#fff"/>
<rect x="1844" y="650" width="26.5" height="26.2" rx="1.6" fill="#fcfcfc" stroke="#d2d2d2" stroke-width="1"/><path d="M1852.05,662.0 v-3.6 a5.2,5.2 0 0 1 10.4,0 v3.6" fill="none" stroke="#6c6c6c" stroke-width="2.8"/><rect x="1848.35" y="661.4" width="17.8" height="10.7" rx="1.5" fill="#6c6c6c"/><circle cx="1857.25" cy="665.4" r="1.3" fill="#fff"/><path d="M1856.55,665.8 h1.4 l0.9,3.5 h-3.2 z" fill="#fff"/>
<rect x="1859" y="435" width="12" height="35" rx="1.5" fill="#fbfbfb" stroke="#d6d6d6" stroke-width="1"/>
<path d="M1868.3,442.6 L1862.6,447.3 L1868.3,452" fill="none" stroke="#7a7a7a" stroke-width="2"/></svg></body></html>
